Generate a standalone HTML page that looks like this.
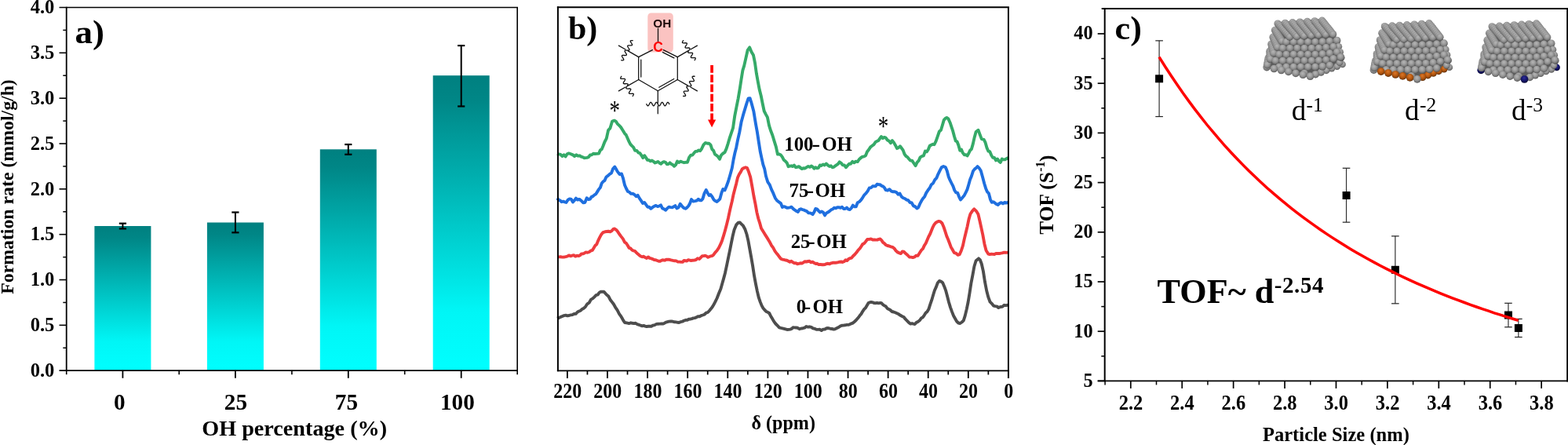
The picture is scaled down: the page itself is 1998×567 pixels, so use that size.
<!DOCTYPE html>
<html lang="en"><head><meta charset="utf-8"><title>Figure</title>
<style>html,body{margin:0;padding:0;background:#fff;overflow:hidden}svg{display:block}</style>
</head><body>
<svg width="1998" height="567" viewBox="0 0 1998 567">
<rect width="1998" height="567" fill="#fff"/>
<defs><linearGradient id="bg" x1="0" y1="0" x2="0" y2="1"><stop offset="0" stop-color="#008080"/><stop offset="0.08" stop-color="#008686"/><stop offset="0.8" stop-color="#00f6f6"/><stop offset="1" stop-color="#00ffff"/></linearGradient></defs>
<rect x="120.40" y="288.00" width="72.0" height="184.20" fill="url(#bg)"/>
<rect x="263.90" y="283.50" width="72.0" height="188.70" fill="url(#bg)"/>
<rect x="407.80" y="190.30" width="72.0" height="281.90" fill="url(#bg)"/>
<rect x="551.70" y="96.20" width="72.0" height="376.00" fill="url(#bg)"/>
<line x1="156.40" y1="291.40" x2="156.40" y2="284.69" stroke="#000" stroke-width="2.0" />
<line x1="151.80" y1="291.40" x2="161.00" y2="291.40" stroke="#000" stroke-width="2.2" />
<line x1="151.80" y1="284.69" x2="161.00" y2="284.69" stroke="#000" stroke-width="2.2" />
<line x1="299.90" y1="296.30" x2="299.90" y2="270.50" stroke="#000" stroke-width="2.0" />
<line x1="295.30" y1="296.30" x2="304.50" y2="296.30" stroke="#000" stroke-width="2.2" />
<line x1="295.30" y1="270.50" x2="304.50" y2="270.50" stroke="#000" stroke-width="2.2" />
<line x1="443.80" y1="196.78" x2="443.80" y2="184.05" stroke="#000" stroke-width="2.0" />
<line x1="439.20" y1="196.78" x2="448.40" y2="196.78" stroke="#000" stroke-width="2.2" />
<line x1="439.20" y1="184.05" x2="448.40" y2="184.05" stroke="#000" stroke-width="2.2" />
<line x1="587.70" y1="135.47" x2="587.70" y2="58.08" stroke="#000" stroke-width="2.0" />
<line x1="583.10" y1="135.47" x2="592.30" y2="135.47" stroke="#000" stroke-width="2.2" />
<line x1="583.10" y1="58.08" x2="592.30" y2="58.08" stroke="#000" stroke-width="2.2" />
<line x1="84.70" y1="8.70" x2="84.70" y2="473.10" stroke="#000" stroke-width="1.8" />
<line x1="75.50" y1="472.20" x2="660.00" y2="472.20" stroke="#000" stroke-width="1.8" />
<line x1="75.50" y1="9.50" x2="660.00" y2="9.50" stroke="#000" stroke-width="1.6" />
<line x1="659.20" y1="9.50" x2="659.20" y2="477.20" stroke="#000" stroke-width="1.6" />
<text transform="translate(69.30,480.00) scale(1.04,1.04)" font-family='"Liberation Serif", "DejaVu Serif", serif' font-size="23.6" font-weight="bold" text-anchor="end" fill="#000" >0.0</text>
<line x1="80.30" y1="443.28" x2="84.70" y2="443.28" stroke="#000" stroke-width="1.5" />
<line x1="75.50" y1="414.36" x2="84.70" y2="414.36" stroke="#000" stroke-width="1.6" />
<text transform="translate(69.30,422.16) scale(1.04,1.04)" font-family='"Liberation Serif", "DejaVu Serif", serif' font-size="23.6" font-weight="bold" text-anchor="end" fill="#000" >0.5</text>
<line x1="80.30" y1="385.44" x2="84.70" y2="385.44" stroke="#000" stroke-width="1.5" />
<line x1="75.50" y1="356.52" x2="84.70" y2="356.52" stroke="#000" stroke-width="1.6" />
<text transform="translate(69.30,364.32) scale(1.04,1.04)" font-family='"Liberation Serif", "DejaVu Serif", serif' font-size="23.6" font-weight="bold" text-anchor="end" fill="#000" >1.0</text>
<line x1="80.30" y1="327.61" x2="84.70" y2="327.61" stroke="#000" stroke-width="1.5" />
<line x1="75.50" y1="298.69" x2="84.70" y2="298.69" stroke="#000" stroke-width="1.6" />
<text transform="translate(69.30,306.49) scale(1.04,1.04)" font-family='"Liberation Serif", "DejaVu Serif", serif' font-size="23.6" font-weight="bold" text-anchor="end" fill="#000" >1.5</text>
<line x1="80.30" y1="269.77" x2="84.70" y2="269.77" stroke="#000" stroke-width="1.5" />
<line x1="75.50" y1="240.85" x2="84.70" y2="240.85" stroke="#000" stroke-width="1.6" />
<text transform="translate(69.30,248.65) scale(1.04,1.04)" font-family='"Liberation Serif", "DejaVu Serif", serif' font-size="23.6" font-weight="bold" text-anchor="end" fill="#000" >2.0</text>
<line x1="80.30" y1="211.93" x2="84.70" y2="211.93" stroke="#000" stroke-width="1.5" />
<line x1="75.50" y1="183.01" x2="84.70" y2="183.01" stroke="#000" stroke-width="1.6" />
<text transform="translate(69.30,190.81) scale(1.04,1.04)" font-family='"Liberation Serif", "DejaVu Serif", serif' font-size="23.6" font-weight="bold" text-anchor="end" fill="#000" >2.5</text>
<line x1="80.30" y1="154.09" x2="84.70" y2="154.09" stroke="#000" stroke-width="1.5" />
<line x1="75.50" y1="125.18" x2="84.70" y2="125.18" stroke="#000" stroke-width="1.6" />
<text transform="translate(69.30,132.98) scale(1.04,1.04)" font-family='"Liberation Serif", "DejaVu Serif", serif' font-size="23.6" font-weight="bold" text-anchor="end" fill="#000" >3.0</text>
<line x1="80.30" y1="96.26" x2="84.70" y2="96.26" stroke="#000" stroke-width="1.5" />
<line x1="75.50" y1="67.34" x2="84.70" y2="67.34" stroke="#000" stroke-width="1.6" />
<text transform="translate(69.30,75.14) scale(1.04,1.04)" font-family='"Liberation Serif", "DejaVu Serif", serif' font-size="23.6" font-weight="bold" text-anchor="end" fill="#000" >3.5</text>
<line x1="80.30" y1="38.42" x2="84.70" y2="38.42" stroke="#000" stroke-width="1.5" />
<text transform="translate(69.30,17.30) scale(1.04,1.04)" font-family='"Liberation Serif", "DejaVu Serif", serif' font-size="23.6" font-weight="bold" text-anchor="end" fill="#000" >4.0</text>
<line x1="156.40" y1="472.20" x2="156.40" y2="481.80" stroke="#000" stroke-width="1.8" />
<line x1="299.90" y1="472.20" x2="299.90" y2="481.80" stroke="#000" stroke-width="1.8" />
<line x1="443.80" y1="472.20" x2="443.80" y2="481.80" stroke="#000" stroke-width="1.8" />
<line x1="587.70" y1="472.20" x2="587.70" y2="481.80" stroke="#000" stroke-width="1.8" />
<line x1="84.70" y1="472.20" x2="84.70" y2="477.20" stroke="#000" stroke-width="1.6" />
<line x1="228.20" y1="472.20" x2="228.20" y2="477.20" stroke="#000" stroke-width="1.6" />
<line x1="371.90" y1="472.20" x2="371.90" y2="477.20" stroke="#000" stroke-width="1.6" />
<line x1="515.70" y1="472.20" x2="515.70" y2="477.20" stroke="#000" stroke-width="1.6" />
<text x="152.30" y="522.00" font-family='"Liberation Serif", "DejaVu Serif", serif' font-size="29.2" font-weight="bold" text-anchor="middle" fill="#000" >0</text>
<text x="300.40" y="522.00" font-family='"Liberation Serif", "DejaVu Serif", serif' font-size="29.2" font-weight="bold" text-anchor="middle" fill="#000" >25</text>
<text x="441.40" y="522.00" font-family='"Liberation Serif", "DejaVu Serif", serif' font-size="29.2" font-weight="bold" text-anchor="middle" fill="#000" >75</text>
<text x="582.85" y="522.00" font-family='"Liberation Serif", "DejaVu Serif", serif' font-size="29.2" font-weight="bold" text-anchor="middle" fill="#000" >100</text>
<text x="375.20" y="555.40" font-family='"Liberation Serif", "DejaVu Serif", serif' font-size="28.2" font-weight="bold" text-anchor="middle" fill="#000" >OH percentage (%)</text>
<text transform="translate(95.60,55.20) scale(1.07,1)" font-family='"Liberation Serif", "DejaVu Serif", serif' font-size="42" font-weight="bold" text-anchor="start" fill="#000" >a)</text>
<text transform="translate(17.2,238) rotate(-90)" font-family='"Liberation Serif", "DejaVu Serif", serif' font-size="23.8" font-weight="bold" text-anchor="middle">Formation rate (mmol/g/h)</text>
<path d="M710.0,405.7 L712.1,405.1 L714.3,403.9 L716.5,403.0 L718.6,402.1 L720.8,401.7 L722.9,402.4 L725.1,402.0 L727.2,401.4 L729.4,401.1 L731.5,400.0 L733.7,399.8 L735.9,397.5 L737.9,396.5 L739.9,395.7 L742.0,393.7 L744.0,392.7 L746.0,390.8 L748.3,387.3 L750.7,385.7 L753.0,381.6 L755.2,380.4 L757.4,378.3 L759.5,376.2 L761.7,375.5 L763.6,372.9 L765.6,371.7 L767.5,371.8 L769.4,371.7 L771.3,373.7 L773.2,375.8 L775.4,377.6 L777.5,381.7 L779.7,384.6 L781.9,387.5 L784.3,391.8 L786.6,395.2 L789.0,399.8 L790.8,402.3 L792.6,405.3 L794.4,408.6 L796.2,411.1 L798.1,411.3 L800.0,411.7 L802.0,412.0 L803.9,411.3 L805.8,411.8 L807.7,412.1 L809.9,411.8 L812.0,413.1 L814.2,413.8 L816.4,414.7 L818.3,415.3 L820.2,414.9 L822.1,415.6 L824.0,416.1 L825.9,415.8 L827.8,415.7 L830.0,415.7 L832.1,414.6 L834.3,414.1 L836.5,412.9 L838.6,412.7 L840.8,412.6 L842.9,412.4 L845.0,412.5 L846.8,411.7 L848.6,410.6 L850.5,410.1 L852.3,409.6 L854.1,409.5 L856.0,409.4 L857.8,409.8 L859.7,410.3 L861.5,410.4 L863.4,410.8 L865.2,411.0 L867.4,410.1 L869.5,409.7 L871.6,408.5 L873.8,407.8 L875.7,407.9 L877.6,406.8 L879.5,406.5 L881.5,406.1 L883.4,405.4 L885.3,405.1 L887.3,404.4 L889.3,403.3 L891.4,403.3 L893.4,402.2 L895.4,401.5 L897.5,400.7 L899.7,398.7 L901.9,398.0 L904.0,395.7 L905.8,393.6 L907.6,391.3 L909.4,388.2 L911.2,384.9 L913.6,380.0 L916.0,373.8 L918.4,368.0 L920.3,361.3 L922.1,354.9 L924.0,347.7 L926.0,338.3 L928.0,328.6 L930.0,319.2 L931.9,309.3 L933.7,300.5 L935.6,292.8 L938.2,286.4 L940.8,283.7 L942.9,283.5 L944.9,285.7 L947.0,287.7 L949.2,291.7 L951.5,298.5 L953.4,306.6 L955.3,317.2 L957.2,327.6 L959.1,338.7 L961.1,351.7 L963.0,361.8 L964.9,371.1 L966.8,379.2 L968.7,384.6 L970.6,389.4 L972.5,392.7 L974.4,394.9 L976.3,397.0 L978.3,397.8 L980.2,399.0 L982.1,402.7 L984.1,406.1 L986.0,409.4 L988.3,412.5 L990.7,414.9 L993.0,417.3 L995.0,417.9 L997.0,418.3 L999.0,418.8 L1001.0,419.3 L1003.0,420.0 L1005.0,419.9 L1006.8,419.6 L1008.6,419.0 L1010.4,417.3 L1012.2,417.4 L1014.4,417.5 L1016.5,417.8 L1018.7,419.2 L1020.9,418.5 L1023.0,418.2 L1025.2,417.7 L1027.3,416.0 L1029.5,416.7 L1031.6,416.3 L1033.8,416.8 L1035.9,418.4 L1038.0,418.7 L1040.2,419.7 L1042.3,419.9 L1044.5,419.8 L1046.7,421.0 L1048.9,419.6 L1051.1,419.5 L1053.2,418.3 L1055.4,418.0 L1057.8,418.7 L1060.1,419.0 L1062.5,419.6 L1064.5,419.1 L1066.5,418.1 L1068.6,417.0 L1070.6,415.6 L1072.6,414.8 L1074.7,414.6 L1076.8,414.3 L1078.9,413.9 L1081.0,413.9 L1082.8,413.2 L1084.7,412.3 L1086.6,411.6 L1088.4,410.2 L1090.8,408.0 L1093.2,405.3 L1095.6,402.1 L1097.4,400.0 L1099.2,396.8 L1101.0,394.2 L1102.8,392.4 L1104.7,389.2 L1106.6,386.0 L1108.5,385.2 L1110.3,384.9 L1112.1,385.3 L1113.9,386.1 L1115.7,386.2 L1117.6,385.8 L1119.6,386.3 L1121.5,385.9 L1123.3,386.2 L1125.1,388.2 L1126.9,389.5 L1128.7,390.3 L1130.6,392.9 L1132.5,393.9 L1134.4,395.0 L1136.6,397.0 L1138.7,397.5 L1140.8,398.3 L1143.0,399.3 L1145.2,400.3 L1147.3,401.8 L1149.5,403.0 L1151.7,404.0 L1153.8,406.7 L1156.0,408.8 L1158.2,411.1 L1160.3,412.6 L1162.1,412.1 L1163.9,412.7 L1165.7,413.0 L1167.5,411.1 L1169.6,410.0 L1171.8,408.3 L1173.9,405.4 L1176.0,404.2 L1177.8,401.6 L1179.7,398.5 L1181.5,397.1 L1183.3,394.1 L1185.2,388.1 L1187.1,382.7 L1189.0,376.2 L1190.9,370.0 L1192.9,365.6 L1194.8,360.4 L1196.9,357.9 L1199.0,358.6 L1201.2,360.3 L1203.4,365.4 L1205.3,370.7 L1207.1,377.5 L1209.0,385.0 L1211.0,391.6 L1213.0,397.1 L1215.0,402.2 L1217.1,406.0 L1219.1,409.5 L1221.2,411.5 L1223.4,412.0 L1225.6,410.5 L1227.8,408.4 L1229.7,402.4 L1231.7,394.1 L1233.6,385.0 L1235.5,373.5 L1237.4,360.9 L1239.3,351.1 L1241.4,339.5 L1243.6,332.3 L1247.0,329.4 L1248.9,331.2 L1250.8,336.3 L1252.9,345.6 L1255.0,359.2 L1257.2,370.5 L1259.4,378.9 L1261.6,384.7 L1263.8,386.8 L1266.0,389.6 L1268.1,390.1 L1270.2,390.4 L1272.4,392.1 L1274.8,391.0 L1277.2,390.9 L1279.6,388.8 L1282.0,389.2 L1284.5,388.7" fill="none" stroke="#4d4d4d" stroke-width="3.9" stroke-linejoin="round" stroke-linecap="butt"/>
<path d="M710.0,327.4 L712.1,327.4 L714.3,327.3 L716.5,327.6 L718.6,327.5 L720.7,327.1 L722.8,326.6 L724.9,325.4 L727.0,326.3 L729.1,325.7 L731.1,325.1 L733.2,326.6 L735.2,325.7 L737.3,326.1 L739.1,325.3 L740.9,323.5 L742.7,323.4 L744.5,322.7 L746.6,321.4 L748.8,321.8 L750.9,321.0 L753.0,319.4 L754.8,318.9 L756.6,315.9 L758.5,312.8 L760.3,311.2 L762.2,306.6 L764.1,302.7 L766.0,299.1 L768.5,296.1 L771.0,295.3 L773.2,295.0 L775.3,294.7 L777.5,295.3 L779.4,294.3 L781.4,292.0 L783.3,291.5 L785.2,292.8 L787.1,295.1 L789.0,298.0 L791.3,301.1 L793.7,304.1 L796.0,308.6 L797.9,309.9 L799.7,312.5 L801.5,315.8 L803.4,316.4 L805.3,318.5 L807.1,319.4 L809.0,319.8 L810.9,321.8 L812.7,323.6 L814.5,325.1 L816.4,326.5 L818.3,327.3 L820.2,326.7 L822.1,328.1 L824.0,329.0 L825.9,327.4 L827.8,328.9 L829.7,329.3 L831.6,330.1 L833.5,331.1 L835.5,331.2 L837.4,332.0 L839.3,332.7 L841.2,332.8 L843.1,331.6 L845.0,331.3 L847.0,331.7 L848.9,330.7 L850.8,330.7 L853.0,330.8 L855.1,331.4 L857.3,331.9 L859.5,332.3 L861.6,332.4 L863.8,333.6 L865.9,333.6 L868.0,333.9 L869.8,333.9 L871.6,331.9 L873.5,332.2 L875.3,332.5 L877.1,331.2 L878.9,331.6 L880.7,332.0 L882.5,331.7 L884.6,331.6 L886.8,331.0 L888.9,329.3 L891.0,330.0 L892.9,328.3 L894.9,326.1 L896.8,326.1 L898.6,325.7 L900.4,326.5 L902.2,327.8 L904.0,327.0 L905.8,326.3 L907.6,325.9 L909.4,324.4 L911.2,321.9 L913.6,319.3 L916.0,315.6 L918.4,310.7 L920.2,306.2 L922.0,300.4 L923.8,294.2 L925.6,287.6 L928.0,277.7 L930.4,266.4 L932.8,256.4 L934.6,247.7 L936.4,240.7 L938.2,233.9 L940.0,226.3 L941.9,222.0 L943.8,219.1 L945.7,215.4 L947.9,214.0 L950.0,213.3 L951.9,213.8 L953.7,218.0 L956.2,225.6 L958.6,238.9 L960.5,250.0 L962.5,259.8 L964.4,270.6 L966.3,278.5 L968.1,284.1 L970.0,291.0 L972.2,294.4 L974.4,298.1 L976.5,301.4 L978.7,304.9 L980.9,308.6 L983.0,312.7 L985.2,315.6 L987.4,319.8 L989.3,322.5 L991.2,324.6 L993.1,327.3 L995.0,329.7 L996.9,330.6 L998.8,330.9 L1000.8,331.5 L1002.7,331.7 L1004.6,332.7 L1006.5,333.8 L1008.4,332.8 L1010.3,334.3 L1012.2,335.3 L1014.2,335.2 L1016.1,336.3 L1018.0,335.9 L1019.9,335.3 L1021.8,335.6 L1023.8,334.4 L1025.7,333.2 L1027.6,333.5 L1029.5,333.0 L1031.5,332.7 L1033.5,334.4 L1035.4,333.7 L1037.4,335.0 L1039.4,336.0 L1041.3,335.8 L1043.3,337.1 L1045.3,336.9 L1047.3,337.2 L1049.2,337.2 L1051.2,337.0 L1053.2,336.1 L1055.1,335.8 L1057.1,336.4 L1059.0,335.3 L1061.0,334.8 L1062.8,334.7 L1064.6,334.7 L1066.4,334.5 L1068.2,334.2 L1070.1,333.7 L1071.9,333.5 L1073.7,334.0 L1075.5,333.3 L1077.4,331.3 L1079.3,332.1 L1081.2,330.1 L1083.2,329.1 L1085.1,328.6 L1087.0,326.2 L1089.2,324.2 L1091.3,321.8 L1093.4,318.8 L1095.6,316.7 L1097.4,314.0 L1099.2,311.1 L1101.0,310.3 L1102.8,308.2 L1105.2,305.0 L1107.7,304.9 L1109.9,304.4 L1112.1,305.5 L1114.3,305.4 L1116.1,305.6 L1117.9,305.6 L1119.7,304.8 L1121.5,304.4 L1123.3,306.1 L1125.1,308.9 L1126.9,310.2 L1128.7,312.0 L1130.8,313.0 L1133.0,313.5 L1135.2,314.3 L1137.3,314.9 L1139.5,316.5 L1141.7,319.6 L1143.8,321.4 L1146.0,322.4 L1147.9,323.1 L1149.8,320.5 L1151.7,320.7 L1154.1,323.1 L1156.4,325.0 L1158.8,327.5 L1161.0,327.6 L1163.2,328.1 L1165.3,327.4 L1167.5,325.6 L1169.6,325.8 L1171.8,322.3 L1173.9,318.9 L1176.0,316.9 L1177.8,312.9 L1179.7,310.0 L1181.5,305.7 L1183.3,301.5 L1185.1,298.2 L1186.9,293.7 L1188.7,289.3 L1190.5,285.9 L1192.4,283.7 L1194.3,282.6 L1196.2,281.9 L1198.3,282.4 L1200.5,284.5 L1202.4,288.9 L1204.4,294.9 L1206.3,300.9 L1208.1,305.0 L1209.9,309.8 L1211.7,314.7 L1213.5,317.7 L1215.9,322.1 L1218.2,322.7 L1220.6,324.9 L1222.8,324.1 L1225.0,318.9 L1226.9,313.2 L1228.8,304.4 L1230.7,296.5 L1232.6,288.6 L1234.5,279.4 L1236.4,272.8 L1238.8,269.1 L1241.3,266.3 L1243.9,268.8 L1246.5,273.1 L1248.4,281.3 L1250.4,290.3 L1252.3,299.1 L1254.4,310.7 L1256.6,319.3 L1259.4,323.6 L1261.3,324.1 L1263.3,323.7 L1265.2,323.9 L1267.1,324.0 L1269.1,323.0 L1271.0,322.9 L1272.9,323.0 L1274.9,322.7 L1276.8,322.3 L1278.7,321.8 L1280.6,321.6 L1282.6,321.9 L1284.5,321.6" fill="none" stroke="#ee3b3e" stroke-width="3.9" stroke-linejoin="round" stroke-linecap="butt"/>
<path d="M710.0,252.4 L711.9,254.7 L713.8,255.6 L715.7,257.2 L717.6,256.6 L719.6,257.3 L721.5,257.9 L723.6,254.7 L725.8,253.4 L727.9,253.9 L730.0,257.5 L732.0,255.3 L733.9,252.6 L735.9,254.5 L738.3,253.9 L740.6,255.7 L743.0,258.2 L745.3,258.0 L747.7,252.3 L750.0,254.1 L751.9,253.6 L753.7,250.9 L755.5,250.1 L757.4,248.4 L759.3,247.3 L761.1,244.4 L763.0,241.2 L764.9,239.0 L766.7,233.7 L768.5,231.3 L770.4,230.1 L772.5,225.5 L774.7,223.9 L776.9,221.8 L779.0,220.6 L781.1,215.0 L783.3,212.5 L785.1,215.6 L787.0,218.9 L789.5,222.0 L792.0,221.4 L794.0,227.2 L796.0,235.7 L798.0,240.3 L800.0,244.0 L802.0,244.8 L804.1,246.9 L806.3,246.8 L808.5,248.0 L810.6,250.3 L812.7,248.8 L814.8,252.7 L816.9,255.6 L819.0,258.9 L821.1,257.9 L823.1,260.7 L825.2,263.7 L827.2,263.7 L829.3,265.8 L831.5,264.2 L833.6,262.8 L835.8,261.9 L838.0,263.1 L840.0,262.5 L842.0,261.4 L844.0,265.4 L846.0,266.3 L848.0,267.8 L850.1,265.6 L852.3,263.6 L854.5,264.1 L856.6,264.4 L858.5,263.3 L860.4,262.1 L862.3,265.4 L864.5,264.5 L866.7,259.7 L869.1,262.8 L871.4,265.0 L873.8,265.8 L875.6,264.3 L877.4,262.3 L879.2,259.0 L881.0,254.1 L883.3,256.5 L885.7,256.1 L888.0,255.6 L889.9,253.7 L891.7,255.3 L893.5,255.4 L895.4,253.4 L897.5,246.4 L899.7,242.0 L901.6,245.7 L903.6,249.0 L905.5,248.1 L907.5,250.7 L909.5,254.4 L911.5,256.0 L913.5,257.0 L915.5,255.3 L917.4,253.3 L919.4,245.8 L921.3,241.0 L923.5,242.5 L925.6,237.5 L928.0,231.0 L930.4,222.8 L932.8,214.0 L934.6,203.5 L936.4,195.0 L938.2,187.9 L940.0,178.7 L942.3,168.4 L944.7,154.9 L947.0,146.4 L949.2,139.1 L951.3,132.1 L953.5,125.5 L955.6,125.1 L957.8,132.2 L960.4,142.1 L963.0,158.0 L964.9,168.4 L966.8,180.9 L968.7,193.0 L970.5,201.3 L972.4,209.9 L974.2,215.2 L976.0,224.5 L978.3,231.9 L980.7,235.3 L983.0,241.4 L985.3,246.2 L987.7,252.1 L990.0,255.5 L992.5,257.4 L995.0,259.2 L996.9,264.0 L998.8,263.2 L1000.7,263.7 L1002.6,264.7 L1004.6,264.7 L1006.5,264.3 L1008.6,263.7 L1010.8,266.1 L1012.9,267.7 L1015.0,269.1 L1016.8,270.0 L1018.6,267.1 L1020.5,266.2 L1022.3,267.1 L1024.2,267.4 L1026.1,268.4 L1028.0,269.1 L1030.0,271.2 L1031.9,271.4 L1033.8,271.8 L1035.6,273.1 L1037.4,270.3 L1039.2,265.9 L1041.0,266.3 L1043.0,268.6 L1045.0,270.5 L1047.0,269.4 L1049.0,270.6 L1051.0,274.4 L1053.0,271.5 L1055.0,270.5 L1057.0,269.2 L1059.0,267.3 L1061.0,266.5 L1063.0,264.8 L1065.0,265.4 L1067.0,264.1 L1069.0,264.2 L1071.0,264.8 L1073.0,263.7 L1075.0,266.0 L1077.0,266.0 L1079.0,264.6 L1081.0,266.6 L1083.0,267.0 L1084.9,265.0 L1086.8,261.6 L1088.8,263.4 L1090.8,263.4 L1092.7,258.3 L1094.9,257.1 L1097.1,254.8 L1099.2,251.8 L1101.4,248.3 L1103.6,246.2 L1105.7,243.3 L1107.8,239.4 L1110.0,239.1 L1111.9,237.3 L1113.8,237.1 L1115.7,237.3 L1117.6,234.7 L1119.6,235.2 L1121.5,235.2 L1123.3,236.8 L1125.1,237.3 L1126.9,239.1 L1128.7,242.2 L1131.1,242.7 L1133.4,241.2 L1135.8,243.6 L1138.0,244.3 L1140.2,244.2 L1142.3,245.1 L1144.5,247.7 L1146.6,246.6 L1148.8,250.6 L1150.9,252.2 L1153.0,253.0 L1155.2,254.6 L1157.3,255.2 L1159.5,257.9 L1161.7,258.5 L1163.9,262.3 L1166.1,263.1 L1168.3,265.5 L1170.2,264.3 L1172.2,259.7 L1174.1,256.1 L1176.0,253.0 L1178.2,250.4 L1180.3,245.6 L1182.5,242.3 L1184.7,239.5 L1186.8,235.2 L1189.0,233.5 L1191.2,229.1 L1193.3,226.9 L1195.4,221.8 L1197.6,217.3 L1199.7,213.3 L1202.2,212.0 L1204.8,213.0 L1206.7,217.4 L1208.7,225.3 L1210.6,229.7 L1212.5,233.5 L1214.4,237.2 L1216.3,242.5 L1218.2,245.4 L1220.2,245.7 L1222.1,250.8 L1224.0,254.5 L1226.2,251.9 L1228.5,249.3 L1230.7,245.1 L1232.5,241.4 L1234.3,235.3 L1236.1,228.8 L1237.9,224.5 L1240.0,217.9 L1242.0,215.4 L1243.8,214.0 L1245.6,212.1 L1247.4,213.8 L1249.8,217.5 L1252.3,226.5 L1254.2,233.7 L1256.1,239.9 L1258.0,244.4 L1259.9,246.3 L1261.9,254.1 L1263.8,257.8 L1265.7,257.3 L1267.6,258.4 L1269.5,260.0 L1271.6,261.0 L1273.8,259.1 L1275.9,258.1 L1278.0,259.4 L1280.2,257.9 L1282.3,258.6 L1284.5,257.9" fill="none" stroke="#1f6fdf" stroke-width="3.9" stroke-linejoin="round" stroke-linecap="butt"/>
<path d="M710.0,195.8 L712.1,196.4 L714.3,196.9 L716.5,199.0 L718.6,197.2 L720.6,199.5 L722.7,196.2 L724.7,195.4 L726.7,196.0 L730.0,197.4 L732.2,199.1 L734.4,197.3 L736.5,198.7 L738.7,198.3 L740.5,199.6 L742.4,200.1 L744.2,201.2 L746.0,201.1 L748.0,200.9 L750.0,200.2 L752.0,197.5 L754.0,197.3 L756.0,195.8 L758.3,196.0 L760.7,195.9 L763.0,195.6 L764.9,191.4 L766.7,190.2 L768.5,186.0 L770.4,181.0 L772.8,176.4 L775.1,165.8 L777.5,163.3 L780.1,154.5 L782.7,153.6 L784.8,154.7 L786.9,157.8 L789.0,159.8 L791.3,162.4 L793.7,166.2 L796.0,170.1 L797.8,171.9 L799.6,176.1 L801.4,180.1 L803.2,183.6 L805.0,185.6 L807.1,187.6 L809.2,191.9 L811.4,191.9 L813.5,194.7 L815.4,195.1 L817.3,197.8 L819.2,201.1 L821.2,198.2 L823.1,200.9 L825.0,203.9 L826.9,204.0 L828.8,205.4 L830.8,204.5 L832.7,205.8 L834.6,207.5 L836.5,206.8 L838.4,205.9 L840.3,207.7 L842.2,208.7 L844.2,206.9 L846.1,206.2 L848.0,206.8 L849.9,209.2 L851.7,209.1 L853.6,207.4 L855.4,209.0 L857.3,209.9 L859.1,211.8 L861.0,210.1 L863.0,205.6 L865.0,207.0 L867.2,205.7 L869.4,206.5 L871.6,207.2 L873.8,206.8 L876.0,206.7 L878.1,200.7 L880.3,197.7 L882.5,197.5 L884.4,194.8 L886.3,192.9 L888.2,192.8 L890.2,191.5 L892.1,192.2 L894.0,189.8 L896.5,184.4 L899.0,182.0 L901.2,182.7 L903.3,182.6 L905.5,184.7 L907.3,190.1 L909.2,192.0 L911.0,196.6 L913.0,197.9 L915.0,199.6 L917.0,202.8 L919.1,197.6 L921.3,195.5 L923.5,194.1 L925.6,189.4 L927.7,182.8 L929.8,175.6 L931.9,169.4 L934.0,163.2 L936.2,147.9 L938.4,136.7 L940.6,125.6 L942.8,112.6 L944.6,100.7 L946.4,89.6 L948.2,83.9 L950.0,75.8 L952.6,64.2 L955.2,60.4 L957.6,66.2 L960.0,70.3 L961.9,79.6 L963.9,93.7 L965.8,104.2 L967.7,114.1 L969.7,121.9 L971.6,131.5 L973.7,141.5 L975.8,145.6 L977.9,149.4 L980.0,159.9 L982.2,166.8 L984.4,172.5 L986.6,179.9 L988.8,186.8 L990.9,196.6 L993.0,196.5 L995.0,197.5 L996.9,200.2 L998.8,203.9 L1000.7,205.3 L1002.6,207.3 L1004.6,212.2 L1006.5,211.7 L1008.3,211.3 L1010.2,212.1 L1012.0,210.6 L1014.0,213.2 L1015.9,212.9 L1017.9,212.1 L1019.8,213.6 L1021.8,215.1 L1023.7,214.3 L1025.8,214.5 L1027.8,213.1 L1029.9,211.9 L1032.0,212.9 L1033.8,211.5 L1035.6,212.6 L1037.4,214.8 L1039.2,213.2 L1041.0,214.2 L1042.9,213.9 L1044.8,210.5 L1046.7,211.0 L1048.8,209.5 L1050.8,210.4 L1052.9,208.5 L1055.0,210.7 L1056.9,212.0 L1058.8,211.2 L1060.6,213.2 L1062.5,212.9 L1064.3,211.3 L1066.1,210.1 L1067.9,208.9 L1069.7,206.4 L1071.8,207.8 L1073.8,210.4 L1075.9,210.5 L1078.0,213.3 L1080.0,210.9 L1082.0,208.8 L1084.0,208.7 L1086.2,205.9 L1088.3,207.3 L1090.5,205.7 L1092.7,206.1 L1094.8,203.0 L1097.0,201.0 L1099.0,199.7 L1101.0,199.4 L1103.0,198.3 L1105.0,193.3 L1107.0,190.8 L1109.2,187.4 L1111.3,185.8 L1113.5,184.1 L1115.7,180.9 L1117.5,179.8 L1119.3,179.2 L1121.2,176.4 L1123.0,174.0 L1124.9,176.2 L1126.8,174.9 L1128.7,175.6 L1130.8,178.5 L1133.0,179.7 L1135.0,182.3 L1137.0,179.1 L1139.0,181.6 L1141.0,185.2 L1143.0,189.1 L1144.9,188.2 L1146.9,186.3 L1148.8,188.8 L1150.7,191.4 L1152.6,196.5 L1154.5,199.0 L1156.3,200.1 L1158.2,202.5 L1160.0,204.6 L1162.2,204.6 L1164.4,208.0 L1166.6,211.2 L1168.6,206.9 L1170.6,204.9 L1172.6,200.4 L1174.6,199.2 L1176.8,198.5 L1179.0,192.5 L1180.9,193.3 L1182.8,190.5 L1184.7,185.8 L1186.6,184.7 L1188.6,183.8 L1190.5,184.2 L1192.6,179.9 L1194.8,173.7 L1196.9,167.5 L1199.0,165.7 L1200.8,159.8 L1202.7,153.1 L1204.5,150.9 L1206.3,149.9 L1208.4,151.4 L1210.6,156.2 L1212.4,161.6 L1214.2,166.9 L1216.0,173.7 L1217.8,179.6 L1219.6,180.5 L1221.4,185.2 L1223.2,191.8 L1225.0,190.5 L1226.9,194.9 L1228.8,197.3 L1230.7,197.2 L1232.5,198.5 L1234.3,195.5 L1236.1,191.7 L1237.9,190.0 L1239.8,183.4 L1241.7,174.9 L1243.6,168.0 L1246.5,165.7 L1248.7,171.7 L1250.8,177.1 L1253.7,177.8 L1255.6,181.7 L1257.5,188.4 L1259.4,192.7 L1261.3,193.2 L1263.3,198.0 L1265.2,200.8 L1267.1,201.0 L1269.1,204.4 L1271.0,202.5 L1272.9,205.4 L1274.8,206.9 L1276.7,202.4 L1278.7,203.4 L1280.6,203.3 L1282.5,202.2 L1284.5,201.0" fill="none" stroke="#35aa68" stroke-width="3.9" stroke-linejoin="round" stroke-linecap="butt"/>
<line x1="710.90" y1="8.30" x2="710.90" y2="473.35" stroke="#000" stroke-width="2.0" />
<line x1="709.90" y1="472.45" x2="1285.90" y2="472.45" stroke="#000" stroke-width="1.8" />
<line x1="709.90" y1="9.20" x2="1285.90" y2="9.20" stroke="#000" stroke-width="1.9" />
<line x1="1284.90" y1="9.20" x2="1284.90" y2="481.95" stroke="#000" stroke-width="1.9" />
<line x1="1284.90" y1="472.45" x2="1284.90" y2="481.95" stroke="#000" stroke-width="1.8" />
<text transform="translate(1285.20,507.00) scale(1,1.11)" font-family='"Liberation Serif", "DejaVu Serif", serif' font-size="24" font-weight="bold" text-anchor="middle" fill="#000" >0</text>
<line x1="1259.36" y1="472.45" x2="1259.36" y2="477.45" stroke="#000" stroke-width="1.7" />
<line x1="1233.81" y1="472.45" x2="1233.81" y2="481.95" stroke="#000" stroke-width="1.8" />
<text transform="translate(1234.11,507.00) scale(1,1.11)" font-family='"Liberation Serif", "DejaVu Serif", serif' font-size="24" font-weight="bold" text-anchor="middle" fill="#000" >20</text>
<line x1="1208.27" y1="472.45" x2="1208.27" y2="477.45" stroke="#000" stroke-width="1.7" />
<line x1="1182.72" y1="472.45" x2="1182.72" y2="481.95" stroke="#000" stroke-width="1.8" />
<text transform="translate(1183.02,507.00) scale(1,1.11)" font-family='"Liberation Serif", "DejaVu Serif", serif' font-size="24" font-weight="bold" text-anchor="middle" fill="#000" >40</text>
<line x1="1157.18" y1="472.45" x2="1157.18" y2="477.45" stroke="#000" stroke-width="1.7" />
<line x1="1131.63" y1="472.45" x2="1131.63" y2="481.95" stroke="#000" stroke-width="1.8" />
<text transform="translate(1131.93,507.00) scale(1,1.11)" font-family='"Liberation Serif", "DejaVu Serif", serif' font-size="24" font-weight="bold" text-anchor="middle" fill="#000" >60</text>
<line x1="1106.09" y1="472.45" x2="1106.09" y2="477.45" stroke="#000" stroke-width="1.7" />
<line x1="1080.54" y1="472.45" x2="1080.54" y2="481.95" stroke="#000" stroke-width="1.8" />
<text transform="translate(1080.84,507.00) scale(1,1.11)" font-family='"Liberation Serif", "DejaVu Serif", serif' font-size="24" font-weight="bold" text-anchor="middle" fill="#000" >80</text>
<line x1="1055.00" y1="472.45" x2="1055.00" y2="477.45" stroke="#000" stroke-width="1.7" />
<line x1="1029.45" y1="472.45" x2="1029.45" y2="481.95" stroke="#000" stroke-width="1.8" />
<text transform="translate(1029.75,507.00) scale(1,1.11)" font-family='"Liberation Serif", "DejaVu Serif", serif' font-size="24" font-weight="bold" text-anchor="middle" fill="#000" >100</text>
<line x1="1003.91" y1="472.45" x2="1003.91" y2="477.45" stroke="#000" stroke-width="1.7" />
<line x1="978.36" y1="472.45" x2="978.36" y2="481.95" stroke="#000" stroke-width="1.8" />
<text transform="translate(978.66,507.00) scale(1,1.11)" font-family='"Liberation Serif", "DejaVu Serif", serif' font-size="24" font-weight="bold" text-anchor="middle" fill="#000" >120</text>
<line x1="952.82" y1="472.45" x2="952.82" y2="477.45" stroke="#000" stroke-width="1.7" />
<line x1="927.27" y1="472.45" x2="927.27" y2="481.95" stroke="#000" stroke-width="1.8" />
<text transform="translate(927.57,507.00) scale(1,1.11)" font-family='"Liberation Serif", "DejaVu Serif", serif' font-size="24" font-weight="bold" text-anchor="middle" fill="#000" >140</text>
<line x1="901.73" y1="472.45" x2="901.73" y2="477.45" stroke="#000" stroke-width="1.7" />
<line x1="876.18" y1="472.45" x2="876.18" y2="481.95" stroke="#000" stroke-width="1.8" />
<text transform="translate(876.48,507.00) scale(1,1.11)" font-family='"Liberation Serif", "DejaVu Serif", serif' font-size="24" font-weight="bold" text-anchor="middle" fill="#000" >160</text>
<line x1="850.64" y1="472.45" x2="850.64" y2="477.45" stroke="#000" stroke-width="1.7" />
<line x1="825.09" y1="472.45" x2="825.09" y2="481.95" stroke="#000" stroke-width="1.8" />
<text transform="translate(825.39,507.00) scale(1,1.11)" font-family='"Liberation Serif", "DejaVu Serif", serif' font-size="24" font-weight="bold" text-anchor="middle" fill="#000" >180</text>
<line x1="799.55" y1="472.45" x2="799.55" y2="477.45" stroke="#000" stroke-width="1.7" />
<line x1="774.00" y1="472.45" x2="774.00" y2="481.95" stroke="#000" stroke-width="1.8" />
<text transform="translate(774.30,507.00) scale(1,1.11)" font-family='"Liberation Serif", "DejaVu Serif", serif' font-size="24" font-weight="bold" text-anchor="middle" fill="#000" >200</text>
<line x1="748.46" y1="472.45" x2="748.46" y2="477.45" stroke="#000" stroke-width="1.7" />
<line x1="722.91" y1="472.45" x2="722.91" y2="481.95" stroke="#000" stroke-width="1.8" />
<text transform="translate(723.21,507.00) scale(1,1.11)" font-family='"Liberation Serif", "DejaVu Serif", serif' font-size="24" font-weight="bold" text-anchor="middle" fill="#000" >220</text>
<text transform="translate(998.20,546.80) scale(1,1.08)" font-family='"Liberation Serif", "DejaVu Serif", serif' font-size="24.1" font-weight="bold" text-anchor="middle" fill="#000" >δ (ppm)</text>
<text x="724.00" y="50.30" font-family='"Liberation Serif", "DejaVu Serif", serif' font-size="42" font-weight="bold" text-anchor="start" fill="#000" >b)</text>
<text x="999.30" y="191.80" font-family='"Liberation Serif", "DejaVu Serif", serif' font-size="24.8" font-weight="bold" text-anchor="start" fill="#000" >100</text>
<text transform="translate(1034.19,191.80) scale(1.318,1)" font-family='"Liberation Serif", "DejaVu Serif", serif' font-size="24.8" font-weight="bold" text-anchor="start" fill="#000" >-</text>
<text x="1047.20" y="191.80" font-family='"Liberation Serif", "DejaVu Serif", serif' font-size="24.8" font-weight="bold" text-anchor="start" fill="#000" >OH</text>
<text x="1005.60" y="251.30" font-family='"Liberation Serif", "DejaVu Serif", serif' font-size="24.8" font-weight="bold" text-anchor="start" fill="#000" >75</text>
<text transform="translate(1027.66,251.30) scale(1.132,1)" font-family='"Liberation Serif", "DejaVu Serif", serif' font-size="24.8" font-weight="bold" text-anchor="start" fill="#000" >-</text>
<text x="1038.40" y="251.30" font-family='"Liberation Serif", "DejaVu Serif", serif' font-size="24.8" font-weight="bold" text-anchor="start" fill="#000" >OH</text>
<text x="1007.70" y="316.00" font-family='"Liberation Serif", "DejaVu Serif", serif' font-size="24.8" font-weight="bold" text-anchor="start" fill="#000" >25</text>
<text transform="translate(1029.38,316.00) scale(1.117,1)" font-family='"Liberation Serif", "DejaVu Serif", serif' font-size="24.8" font-weight="bold" text-anchor="start" fill="#000" >-</text>
<text x="1040.20" y="316.00" font-family='"Liberation Serif", "DejaVu Serif", serif' font-size="24.8" font-weight="bold" text-anchor="start" fill="#000" >OH</text>
<text x="1014.80" y="399.00" font-family='"Liberation Serif", "DejaVu Serif", serif' font-size="24.8" font-weight="bold" text-anchor="start" fill="#000" >0</text>
<text transform="translate(1024.08,399.00) scale(1.117,1)" font-family='"Liberation Serif", "DejaVu Serif", serif' font-size="24.8" font-weight="bold" text-anchor="start" fill="#000" >-</text>
<text x="1035.50" y="399.00" font-family='"Liberation Serif", "DejaVu Serif", serif' font-size="24.8" font-weight="bold" text-anchor="start" fill="#000" >OH</text>
<text transform="translate(783.3,137.3) scale(0.9,1.16)" x="0" y="13.5" font-family='"Liberation Serif", "DejaVu Serif", serif' font-size="30" text-anchor="middle">*</text>
<text transform="translate(1125.4,157.0) scale(0.9,1.16)" x="0" y="13.5" font-family='"Liberation Serif", "DejaVu Serif", serif' font-size="30" text-anchor="middle">*</text>
<line x1="907.1" y1="82.9" x2="907.1" y2="153" stroke="#ff0000" stroke-width="3.7" stroke-dasharray="9.8 2.5"/>
<polygon points="902,152.4 912.2,152.4 907.1,162.3" fill="#ff0000"/>
<rect x="825.3" y="16.5" width="32.5" height="50" rx="4.5" ry="4.5" fill="#fbc3c1"/>
<line x1="831.41" y1="63.60" x2="813.70" y2="72.60" stroke="#111" stroke-width="1.25" stroke-linecap="round"/>
<line x1="845.30" y1="63.60" x2="863.30" y2="72.60" stroke="#111" stroke-width="1.25" stroke-linecap="round"/>
<line x1="813.70" y1="72.60" x2="813.70" y2="101.50" stroke="#111" stroke-width="1.25" stroke-linecap="round"/>
<line x1="813.70" y1="101.50" x2="838.30" y2="115.70" stroke="#111" stroke-width="1.25" stroke-linecap="round"/>
<line x1="838.30" y1="115.70" x2="863.30" y2="101.50" stroke="#111" stroke-width="1.25" stroke-linecap="round"/>
<line x1="863.30" y1="101.50" x2="863.30" y2="72.60" stroke="#111" stroke-width="1.25" stroke-linecap="round"/>
<line x1="816.80" y1="76.07" x2="816.80" y2="98.03" stroke="#111" stroke-width="1.25" stroke-linecap="round"/>
<line x1="839.77" y1="111.30" x2="858.77" y2="100.51" stroke="#111" stroke-width="1.25" stroke-linecap="round"/>
<line x1="844.41" y1="66.62" x2="858.91" y2="73.87" stroke="#111" stroke-width="1.25" stroke-linecap="round"/>
<line x1="838.50" y1="36.00" x2="838.50" y2="53.00" stroke="#111" stroke-width="1.25" stroke-linecap="round"/>
<line x1="813.70" y1="72.60" x2="800.29" y2="64.91" stroke="#111" stroke-width="1.25" stroke-linecap="round"/>
<line x1="797.00" y1="63.03" x2="788.40" y2="58.10" stroke="#111" stroke-width="1.25" stroke-linecap="round"/>
<path d="M791.82,76.77 L792.87,76.82 L793.78,76.78 L794.43,76.60 L794.76,76.23 L794.75,75.66 L794.43,74.93 L793.91,74.07 L793.32,73.18 L792.81,72.32 L792.49,71.59 L792.48,71.02 L792.80,70.65 L793.46,70.47 L794.37,70.43 L795.42,70.48 L796.47,70.53 L797.38,70.49 L798.04,70.31 L798.37,69.94 L798.35,69.37 L798.04,68.64 L797.52,67.78 L796.93,66.89 L796.41,66.03 L796.10,65.30 L796.08,64.73 L796.41,64.36 L797.06,64.18 L797.97,64.14 L799.03,64.19 L800.08,64.24 L800.99,64.20 L801.64,64.02 L801.97,63.65 L801.96,63.08 L801.64,62.35 L801.12,61.49 L800.53,60.60 L800.02,59.74 L799.70,59.01 L799.69,58.44 L800.01,58.07 L800.67,57.89 L801.58,57.85 L802.63,57.90 L803.68,57.95 L804.59,57.91 L805.25,57.73 L805.58,57.36 L805.56,56.79 L805.25,56.06 L804.73,55.20 L804.14,54.31 L803.62,53.45 L803.31,52.72 L803.29,52.15 L803.62,51.78 L804.27,51.60 L805.18,51.56 L806.24,51.61" fill="none" stroke="#111" stroke-width="1.3" stroke-linecap="round" stroke-linejoin="round"/>
<line x1="863.30" y1="72.60" x2="876.60" y2="64.91" stroke="#111" stroke-width="1.25" stroke-linecap="round"/>
<line x1="879.87" y1="63.03" x2="888.40" y2="58.10" stroke="#111" stroke-width="1.25" stroke-linecap="round"/>
<path d="M870.60,51.63 L870.04,52.52 L869.61,53.33 L869.44,53.98 L869.59,54.45 L870.09,54.72 L870.88,54.82 L871.88,54.80 L872.95,54.74 L873.95,54.72 L874.75,54.82 L875.24,55.09 L875.40,55.56 L875.23,56.22 L874.80,57.03 L874.23,57.91 L873.66,58.80 L873.23,59.60 L873.06,60.26 L873.22,60.73 L873.72,61.00 L874.51,61.10 L875.51,61.08 L876.58,61.02 L877.58,61.00 L878.37,61.10 L878.87,61.37 L879.03,61.84 L878.85,62.50 L878.43,63.30 L877.86,64.19 L877.29,65.08 L876.86,65.88 L876.69,66.54 L876.84,67.01 L877.34,67.28 L878.14,67.38 L879.14,67.36 L880.21,67.30 L881.20,67.28 L882.00,67.38 L882.50,67.65 L882.65,68.12 L882.48,68.78 L882.05,69.58 L881.48,70.47 L880.92,71.35 L880.49,72.16 L880.32,72.82 L880.47,73.29 L880.97,73.56 L881.76,73.66 L882.76,73.64 L883.83,73.58 L884.83,73.56 L885.63,73.66 L886.12,73.93 L886.28,74.40 L886.11,75.05 L885.68,75.86 L885.11,76.75" fill="none" stroke="#111" stroke-width="1.3" stroke-linecap="round" stroke-linejoin="round"/>
<line x1="813.70" y1="101.50" x2="800.29" y2="109.13" stroke="#111" stroke-width="1.25" stroke-linecap="round"/>
<line x1="797.00" y1="111.00" x2="788.40" y2="115.90" stroke="#111" stroke-width="1.25" stroke-linecap="round"/>
<path d="M806.20,122.45 L806.77,121.57 L807.21,120.77 L807.38,120.11 L807.23,119.64 L806.73,119.37 L805.94,119.26 L804.94,119.28 L803.87,119.33 L802.87,119.34 L802.08,119.24 L801.58,118.96 L801.43,118.50 L801.60,117.84 L802.04,117.04 L802.61,116.15 L803.19,115.27 L803.62,114.47 L803.80,113.81 L803.64,113.34 L803.15,113.07 L802.35,112.96 L801.35,112.98 L800.28,113.03 L799.29,113.04 L798.49,112.94 L797.99,112.66 L797.84,112.19 L798.02,111.54 L798.45,110.73 L799.03,109.85 L799.60,108.97 L800.03,108.17 L800.21,107.51 L800.06,107.04 L799.56,106.77 L798.77,106.66 L797.77,106.68 L796.70,106.73 L795.70,106.74 L794.90,106.64 L794.41,106.36 L794.26,105.89 L794.43,105.24 L794.87,104.43 L795.44,103.55 L796.01,102.67 L796.45,101.87 L796.62,101.21 L796.47,100.74 L795.98,100.47 L795.18,100.36 L794.18,100.37 L793.11,100.43 L792.11,100.44 L791.32,100.34 L790.82,100.06 L790.67,99.59 L790.85,98.94 L791.28,98.13 L791.85,97.25" fill="none" stroke="#111" stroke-width="1.3" stroke-linecap="round" stroke-linejoin="round"/>
<line x1="863.30" y1="101.50" x2="876.60" y2="109.13" stroke="#111" stroke-width="1.25" stroke-linecap="round"/>
<line x1="879.87" y1="111.00" x2="888.40" y2="115.90" stroke="#111" stroke-width="1.25" stroke-linecap="round"/>
<path d="M885.07,97.27 L884.02,97.23 L883.11,97.26 L882.45,97.44 L882.13,97.81 L882.14,98.38 L882.46,99.12 L882.98,99.97 L883.56,100.87 L884.08,101.72 L884.40,102.46 L884.41,103.02 L884.08,103.39 L883.43,103.58 L882.52,103.61 L881.47,103.56 L880.41,103.52 L879.50,103.55 L878.85,103.73 L878.52,104.10 L878.54,104.67 L878.85,105.41 L879.37,106.26 L879.96,107.16 L880.47,108.01 L880.79,108.75 L880.80,109.31 L880.48,109.68 L879.82,109.86 L878.91,109.90 L877.86,109.85 L876.81,109.81 L875.89,109.84 L875.24,110.02 L874.91,110.39 L874.93,110.96 L875.24,111.69 L875.76,112.55 L876.35,113.44 L876.87,114.30 L877.18,115.04 L877.20,115.60 L876.87,115.97 L876.21,116.15 L875.30,116.19 L874.25,116.14 L873.20,116.09 L872.29,116.13 L871.63,116.31 L871.30,116.68 L871.32,117.25 L871.63,117.98 L872.15,118.84 L872.74,119.73 L873.26,120.59 L873.57,121.32 L873.59,121.89 L873.26,122.26 L872.61,122.44 L871.69,122.48 L870.64,122.43" fill="none" stroke="#111" stroke-width="1.3" stroke-linecap="round" stroke-linejoin="round"/>
<line x1="838.30" y1="115.70" x2="838.30" y2="131.12" stroke="#111" stroke-width="1.25" stroke-linecap="round"/>
<line x1="838.30" y1="134.91" x2="838.30" y2="144.80" stroke="#111" stroke-width="1.25" stroke-linecap="round"/>
<path d="M852.80,132.58 L852.32,131.64 L851.83,130.87 L851.35,130.39 L850.87,130.29 L850.38,130.59 L849.90,131.23 L849.42,132.10 L848.93,133.06 L848.45,133.93 L847.97,134.57 L847.48,134.87 L847.00,134.77 L846.52,134.29 L846.03,133.51 L845.55,132.58 L845.07,131.64 L844.58,130.87 L844.10,130.39 L843.62,130.29 L843.13,130.59 L842.65,131.23 L842.17,132.10 L841.68,133.06 L841.20,133.93 L840.72,134.57 L840.23,134.87 L839.75,134.77 L839.27,134.29 L838.78,133.51 L838.30,132.58 L837.82,131.64 L837.33,130.87 L836.85,130.39 L836.37,130.29 L835.88,130.59 L835.40,131.23 L834.92,132.10 L834.43,133.06 L833.95,133.93 L833.47,134.57 L832.98,134.87 L832.50,134.77 L832.02,134.29 L831.53,133.51 L831.05,132.58 L830.57,131.64 L830.08,130.87 L829.60,130.39 L829.12,130.29 L828.63,130.59 L828.15,131.23 L827.67,132.10 L827.18,133.06 L826.70,133.93 L826.22,134.57 L825.73,134.87 L825.25,134.77 L824.77,134.29 L824.28,133.51 L823.80,132.58" fill="none" stroke="#111" stroke-width="1.3" stroke-linecap="round" stroke-linejoin="round"/>
<text x="843.8" y="35.0" font-family='"Liberation Sans", "DejaVu Sans", sans-serif' font-size="15.3" font-weight="bold" text-anchor="middle" fill="#1a0a0a">OH</text>
<text x="838.6" y="66.4" font-family='"Liberation Sans", "DejaVu Sans", sans-serif' font-size="17.5" font-weight="bold" text-anchor="middle" fill="#ff0000">C</text>
<line x1="1477.11" y1="148.54" x2="1477.11" y2="51.85" stroke="#333" stroke-width="1.2" />
<line x1="1472.31" y1="148.54" x2="1481.91" y2="148.54" stroke="#222" stroke-width="1.2" />
<line x1="1472.31" y1="51.85" x2="1481.91" y2="51.85" stroke="#222" stroke-width="1.2" />
<rect x="1472.1" y="95.3" width="10" height="10" fill="#000"/>
<line x1="1715.56" y1="283.16" x2="1715.56" y2="214.27" stroke="#333" stroke-width="1.2" />
<line x1="1710.76" y1="283.16" x2="1720.36" y2="283.16" stroke="#222" stroke-width="1.2" />
<line x1="1710.76" y1="214.27" x2="1720.36" y2="214.27" stroke="#222" stroke-width="1.2" />
<rect x="1710.6" y="244.0" width="10" height="10" fill="#000"/>
<line x1="1777.88" y1="386.81" x2="1777.88" y2="300.86" stroke="#333" stroke-width="1.2" />
<line x1="1773.08" y1="386.81" x2="1782.68" y2="386.81" stroke="#222" stroke-width="1.2" />
<line x1="1773.08" y1="300.86" x2="1782.68" y2="300.86" stroke="#222" stroke-width="1.2" />
<rect x="1772.9" y="338.8" width="10" height="10" fill="#000"/>
<line x1="1921.96" y1="416.76" x2="1921.96" y2="386.30" stroke="#333" stroke-width="1.2" />
<line x1="1917.16" y1="416.76" x2="1926.76" y2="416.76" stroke="#222" stroke-width="1.2" />
<line x1="1917.16" y1="386.30" x2="1926.76" y2="386.30" stroke="#222" stroke-width="1.2" />
<rect x="1917.0" y="396.5" width="10" height="10" fill="#000"/>
<line x1="1934.88" y1="429.53" x2="1934.88" y2="406.40" stroke="#333" stroke-width="1.2" />
<line x1="1930.08" y1="429.53" x2="1939.68" y2="429.53" stroke="#222" stroke-width="1.2" />
<line x1="1930.08" y1="406.40" x2="1939.68" y2="406.40" stroke="#222" stroke-width="1.2" />
<rect x="1929.9" y="413.0" width="10" height="10" fill="#000"/>
<path d="M1477.0,72.6 L1484.6,84.8 L1492.3,96.5 L1499.9,107.8 L1507.5,118.8 L1515.2,129.4 L1522.8,139.6 L1530.4,149.4 L1538.0,159.0 L1545.7,168.2 L1553.3,177.2 L1560.9,185.8 L1568.6,194.2 L1576.2,202.3 L1583.8,210.1 L1591.4,217.7 L1599.1,225.1 L1606.7,232.2 L1614.3,239.2 L1622.0,245.9 L1629.6,252.4 L1637.2,258.7 L1644.8,264.8 L1652.5,270.8 L1660.1,276.6 L1667.7,282.2 L1675.4,287.7 L1683.0,293.0 L1690.6,298.1 L1698.2,303.1 L1705.9,308.0 L1713.5,312.8 L1721.1,317.4 L1728.8,321.9 L1736.4,326.2 L1744.0,330.5 L1751.6,334.6 L1759.3,338.7 L1766.9,342.6 L1774.5,346.4 L1782.2,350.2 L1789.8,353.8 L1797.4,357.3 L1805.0,360.8 L1812.7,364.2 L1820.3,367.4 L1827.9,370.6 L1835.6,373.8 L1843.2,376.8 L1850.8,379.8 L1858.4,382.7 L1866.1,385.5 L1873.7,388.3 L1881.3,391.0 L1888.9,393.7 L1896.6,396.2 L1904.2,398.8 L1911.8,401.2 L1919.5,403.6 L1927.1,406.0 L1934.7,408.3" fill="none" stroke="#ff0000" stroke-width="3.5" stroke-linecap="butt"/>
<line x1="1407.70" y1="10.00" x2="1407.70" y2="486.30" stroke="#000" stroke-width="2.0" />
<line x1="1398.70" y1="485.40" x2="1998.80" y2="485.40" stroke="#000" stroke-width="1.8" />
<line x1="1403.70" y1="11.00" x2="1998.80" y2="11.00" stroke="#000" stroke-width="2.0" />
<line x1="1997.50" y1="11.00" x2="1997.50" y2="486.40" stroke="#000" stroke-width="2.6" />
<line x1="1398.70" y1="485.40" x2="1407.70" y2="485.40" stroke="#000" stroke-width="1.7" />
<text transform="translate(1392.60,492.70) scale(1,1.07)" font-family='"Liberation Serif", "DejaVu Serif", serif' font-size="24.3" font-weight="bold" text-anchor="end" fill="#000" >5</text>
<line x1="1403.30" y1="453.80" x2="1407.70" y2="453.80" stroke="#000" stroke-width="1.5" />
<line x1="1398.70" y1="422.20" x2="1407.70" y2="422.20" stroke="#000" stroke-width="1.7" />
<text transform="translate(1392.60,429.50) scale(1,1.07)" font-family='"Liberation Serif", "DejaVu Serif", serif' font-size="24.3" font-weight="bold" text-anchor="end" fill="#000" >10</text>
<line x1="1403.30" y1="390.60" x2="1407.70" y2="390.60" stroke="#000" stroke-width="1.5" />
<line x1="1398.70" y1="359.00" x2="1407.70" y2="359.00" stroke="#000" stroke-width="1.7" />
<text transform="translate(1392.60,366.30) scale(1,1.07)" font-family='"Liberation Serif", "DejaVu Serif", serif' font-size="24.3" font-weight="bold" text-anchor="end" fill="#000" >15</text>
<line x1="1403.30" y1="327.40" x2="1407.70" y2="327.40" stroke="#000" stroke-width="1.5" />
<line x1="1398.70" y1="295.80" x2="1407.70" y2="295.80" stroke="#000" stroke-width="1.7" />
<text transform="translate(1392.60,303.10) scale(1,1.07)" font-family='"Liberation Serif", "DejaVu Serif", serif' font-size="24.3" font-weight="bold" text-anchor="end" fill="#000" >20</text>
<line x1="1403.30" y1="264.20" x2="1407.70" y2="264.20" stroke="#000" stroke-width="1.5" />
<line x1="1398.70" y1="232.60" x2="1407.70" y2="232.60" stroke="#000" stroke-width="1.7" />
<text transform="translate(1392.60,239.90) scale(1,1.07)" font-family='"Liberation Serif", "DejaVu Serif", serif' font-size="24.3" font-weight="bold" text-anchor="end" fill="#000" >25</text>
<line x1="1403.30" y1="201.00" x2="1407.70" y2="201.00" stroke="#000" stroke-width="1.5" />
<line x1="1398.70" y1="169.40" x2="1407.70" y2="169.40" stroke="#000" stroke-width="1.7" />
<text transform="translate(1392.60,176.70) scale(1,1.07)" font-family='"Liberation Serif", "DejaVu Serif", serif' font-size="24.3" font-weight="bold" text-anchor="end" fill="#000" >30</text>
<line x1="1403.30" y1="137.80" x2="1407.70" y2="137.80" stroke="#000" stroke-width="1.5" />
<line x1="1398.70" y1="106.20" x2="1407.70" y2="106.20" stroke="#000" stroke-width="1.7" />
<text transform="translate(1392.60,113.50) scale(1,1.07)" font-family='"Liberation Serif", "DejaVu Serif", serif' font-size="24.3" font-weight="bold" text-anchor="end" fill="#000" >35</text>
<line x1="1403.30" y1="74.60" x2="1407.70" y2="74.60" stroke="#000" stroke-width="1.5" />
<line x1="1398.70" y1="43.00" x2="1407.70" y2="43.00" stroke="#000" stroke-width="1.7" />
<text transform="translate(1392.60,50.30) scale(1,1.07)" font-family='"Liberation Serif", "DejaVu Serif", serif' font-size="24.3" font-weight="bold" text-anchor="end" fill="#000" >40</text>
<line x1="1408.09" y1="485.40" x2="1408.09" y2="490.40" stroke="#000" stroke-width="1.5" />
<line x1="1440.80" y1="485.40" x2="1440.80" y2="494.90" stroke="#000" stroke-width="1.7" />
<text transform="translate(1441.00,521.70) scale(1,1.12)" font-family='"Liberation Serif", "DejaVu Serif", serif' font-size="24.5" font-weight="bold" text-anchor="middle" fill="#000" >2.2</text>
<line x1="1473.51" y1="485.40" x2="1473.51" y2="490.40" stroke="#000" stroke-width="1.5" />
<line x1="1506.22" y1="485.40" x2="1506.22" y2="494.90" stroke="#000" stroke-width="1.7" />
<text transform="translate(1506.42,521.70) scale(1,1.12)" font-family='"Liberation Serif", "DejaVu Serif", serif' font-size="24.5" font-weight="bold" text-anchor="middle" fill="#000" >2.4</text>
<line x1="1538.93" y1="485.40" x2="1538.93" y2="490.40" stroke="#000" stroke-width="1.5" />
<line x1="1571.64" y1="485.40" x2="1571.64" y2="494.90" stroke="#000" stroke-width="1.7" />
<text transform="translate(1571.84,521.70) scale(1,1.12)" font-family='"Liberation Serif", "DejaVu Serif", serif' font-size="24.5" font-weight="bold" text-anchor="middle" fill="#000" >2.6</text>
<line x1="1604.35" y1="485.40" x2="1604.35" y2="490.40" stroke="#000" stroke-width="1.5" />
<line x1="1637.06" y1="485.40" x2="1637.06" y2="494.90" stroke="#000" stroke-width="1.7" />
<text transform="translate(1637.26,521.70) scale(1,1.12)" font-family='"Liberation Serif", "DejaVu Serif", serif' font-size="24.5" font-weight="bold" text-anchor="middle" fill="#000" >2.8</text>
<line x1="1669.77" y1="485.40" x2="1669.77" y2="490.40" stroke="#000" stroke-width="1.5" />
<line x1="1702.48" y1="485.40" x2="1702.48" y2="494.90" stroke="#000" stroke-width="1.7" />
<text transform="translate(1702.68,521.70) scale(1,1.12)" font-family='"Liberation Serif", "DejaVu Serif", serif' font-size="24.5" font-weight="bold" text-anchor="middle" fill="#000" >3.0</text>
<line x1="1735.19" y1="485.40" x2="1735.19" y2="490.40" stroke="#000" stroke-width="1.5" />
<line x1="1767.90" y1="485.40" x2="1767.90" y2="494.90" stroke="#000" stroke-width="1.7" />
<text transform="translate(1768.10,521.70) scale(1,1.12)" font-family='"Liberation Serif", "DejaVu Serif", serif' font-size="24.5" font-weight="bold" text-anchor="middle" fill="#000" >3.2</text>
<line x1="1800.61" y1="485.40" x2="1800.61" y2="490.40" stroke="#000" stroke-width="1.5" />
<line x1="1833.32" y1="485.40" x2="1833.32" y2="494.90" stroke="#000" stroke-width="1.7" />
<text transform="translate(1833.52,521.70) scale(1,1.12)" font-family='"Liberation Serif", "DejaVu Serif", serif' font-size="24.5" font-weight="bold" text-anchor="middle" fill="#000" >3.4</text>
<line x1="1866.03" y1="485.40" x2="1866.03" y2="490.40" stroke="#000" stroke-width="1.5" />
<line x1="1898.74" y1="485.40" x2="1898.74" y2="494.90" stroke="#000" stroke-width="1.7" />
<text transform="translate(1898.94,521.70) scale(1,1.12)" font-family='"Liberation Serif", "DejaVu Serif", serif' font-size="24.5" font-weight="bold" text-anchor="middle" fill="#000" >3.6</text>
<line x1="1931.45" y1="485.40" x2="1931.45" y2="490.40" stroke="#000" stroke-width="1.5" />
<line x1="1964.16" y1="485.40" x2="1964.16" y2="494.90" stroke="#000" stroke-width="1.7" />
<text transform="translate(1964.36,521.70) scale(1,1.12)" font-family='"Liberation Serif", "DejaVu Serif", serif' font-size="24.5" font-weight="bold" text-anchor="middle" fill="#000" >3.8</text>
<text transform="translate(1702.40,562.10) scale(1,1.06)" font-family='"Liberation Serif", "DejaVu Serif", serif' font-size="24.6" font-weight="bold" text-anchor="middle" fill="#000" >Particle Size (nm)</text>
<text transform="translate(1420.60,50.30) scale(1.05,1)" font-family='"Liberation Serif", "DejaVu Serif", serif' font-size="42" font-weight="bold" text-anchor="start" fill="#000" >c)</text>
<text transform="translate(1341.6,248.2) rotate(-90)" font-family='"Liberation Serif", "DejaVu Serif", serif' font-size="25.3" font-weight="bold" text-anchor="middle">TOF (S<tspan font-size="15.8" dy="-10.8" dx="0.6">-1</tspan><tspan dy="10.8" dx="-0.6">)</tspan></text>
<text x="1474.6" y="385.6" font-family='"Liberation Serif", "DejaVu Serif", serif' font-size="44.2" font-weight="bold">TOF~ d<tspan font-size="29" dy="-13" dx="0.5" letter-spacing="0.6">-2.54</tspan></text>
<text x="1645.8" y="153.2" font-family='"Liberation Serif", "DejaVu Serif", serif' font-size="37" font-weight="normal">d<tspan font-size="25.5" dy="-11" dx="0.3">-1</tspan></text>
<text x="1790.1" y="153.2" font-family='"Liberation Serif", "DejaVu Serif", serif' font-size="37" font-weight="normal">d<tspan font-size="25.5" dy="-11" dx="0.3">-2</tspan></text>
<text x="1926" y="153.2" font-family='"Liberation Serif", "DejaVu Serif", serif' font-size="37" font-weight="normal">d<tspan font-size="25.5" dy="-11" dx="0.3">-3</tspan></text>
<defs><radialGradient id="sg" cx="0.47" cy="0.40" r="0.64" fx="0.45" fy="0.30"><stop offset="0" stop-color="#b6b6b6"/><stop offset="0.4" stop-color="#a0a0a0"/><stop offset="0.72" stop-color="#808080"/><stop offset="0.92" stop-color="#565656"/><stop offset="1" stop-color="#3a3a3a"/></radialGradient><radialGradient id="so" cx="0.47" cy="0.40" r="0.64" fx="0.45" fy="0.30"><stop offset="0" stop-color="#d9782c"/><stop offset="0.4" stop-color="#c26014"/><stop offset="0.72" stop-color="#9a4a0c"/><stop offset="0.92" stop-color="#5e2c04"/><stop offset="1" stop-color="#3a1a02"/></radialGradient><radialGradient id="sb" cx="0.47" cy="0.40" r="0.64" fx="0.45" fy="0.30"><stop offset="0" stop-color="#30309a"/><stop offset="0.4" stop-color="#1a1a78"/><stop offset="0.72" stop-color="#101058"/><stop offset="0.92" stop-color="#060630"/><stop offset="1" stop-color="#040420"/></radialGradient></defs>
<g transform="translate(1598.64,6.41) scale(0.19402)">
<polygon points="154,120 445,100 517,190 560,290 577,388 365,468 80,405 105,260" fill="#5c5c5c" stroke="#5c5c5c" stroke-width="18" stroke-linejoin="round"/>
<circle cx="577.0" cy="390.0" r="22.0" fill="url(#sg)"/>
<circle cx="541.7" cy="403.0" r="22.5" fill="url(#sg)"/>
<circle cx="506.3" cy="416.0" r="23.0" fill="url(#sg)"/>
<circle cx="471.0" cy="429.0" r="23.5" fill="url(#sg)"/>
<circle cx="435.7" cy="442.0" r="24.0" fill="url(#sg)"/>
<circle cx="400.3" cy="455.0" r="24.5" fill="url(#sg)"/>
<circle cx="558.0" cy="378.0" r="22.5" fill="url(#sg)"/>
<circle cx="80.0" cy="408.0" r="25.0" fill="url(#sg)"/>
<circle cx="91.3" cy="348.6" r="25.0" fill="url(#sg)"/>
<circle cx="88.5" cy="363.4" r="25.0" fill="url(#sg)"/>
<circle cx="85.7" cy="378.2" r="25.0" fill="url(#sg)"/>
<circle cx="82.9" cy="393.1" r="25.0" fill="url(#sg)"/>
<circle cx="100.6" cy="302.9" r="25.0" fill="url(#sg)"/>
<circle cx="101.0" cy="315.8" r="25.0" fill="url(#sg)"/>
<circle cx="101.4" cy="328.8" r="25.0" fill="url(#sg)"/>
<circle cx="101.8" cy="341.8" r="25.0" fill="url(#sg)"/>
<circle cx="102.2" cy="354.7" r="25.0" fill="url(#sg)"/>
<circle cx="110.6" cy="257.1" r="25.0" fill="url(#sg)"/>
<circle cx="113.3" cy="268.9" r="25.0" fill="url(#sg)"/>
<circle cx="116.0" cy="280.6" r="25.0" fill="url(#sg)"/>
<circle cx="118.7" cy="292.3" r="25.0" fill="url(#sg)"/>
<circle cx="121.4" cy="304.1" r="25.0" fill="url(#sg)"/>
<circle cx="124.1" cy="315.8" r="25.0" fill="url(#sg)"/>
<circle cx="121.6" cy="211.4" r="25.0" fill="url(#sg)"/>
<circle cx="126.2" cy="222.3" r="25.0" fill="url(#sg)"/>
<circle cx="130.7" cy="233.1" r="25.0" fill="url(#sg)"/>
<circle cx="135.3" cy="244.0" r="25.0" fill="url(#sg)"/>
<circle cx="139.8" cy="254.8" r="25.0" fill="url(#sg)"/>
<circle cx="144.3" cy="265.7" r="25.0" fill="url(#sg)"/>
<circle cx="148.9" cy="276.5" r="25.0" fill="url(#sg)"/>
<circle cx="134.3" cy="165.7" r="25.0" fill="url(#sg)"/>
<circle cx="140.6" cy="175.9" r="25.0" fill="url(#sg)"/>
<circle cx="146.8" cy="186.1" r="25.0" fill="url(#sg)"/>
<circle cx="153.1" cy="196.3" r="25.0" fill="url(#sg)"/>
<circle cx="159.3" cy="206.4" r="25.0" fill="url(#sg)"/>
<circle cx="165.6" cy="216.6" r="25.0" fill="url(#sg)"/>
<circle cx="171.8" cy="226.8" r="25.0" fill="url(#sg)"/>
<circle cx="178.1" cy="237.0" r="25.0" fill="url(#sg)"/>
<circle cx="541.0" cy="236.3" r="23.0" fill="url(#sg)"/>
<circle cx="540.8" cy="232.3" r="25.0" fill="url(#sg)"/>
<circle cx="493.2" cy="237.7" r="25.0" fill="url(#sg)"/>
<circle cx="445.8" cy="241.2" r="25.0" fill="url(#sg)"/>
<circle cx="398.2" cy="242.9" r="25.0" fill="url(#sg)"/>
<circle cx="350.8" cy="243.0" r="25.0" fill="url(#sg)"/>
<circle cx="303.2" cy="243.0" r="25.0" fill="url(#sg)"/>
<circle cx="255.8" cy="243.0" r="25.0" fill="url(#sg)"/>
<circle cx="208.2" cy="243.0" r="25.0" fill="url(#sg)"/>
<circle cx="552.1" cy="272.9" r="23.0" fill="url(#sg)"/>
<circle cx="517.0" cy="274.4" r="25.0" fill="url(#sg)"/>
<circle cx="469.5" cy="279.9" r="25.0" fill="url(#sg)"/>
<circle cx="422.0" cy="283.1" r="25.0" fill="url(#sg)"/>
<circle cx="374.5" cy="284.0" r="25.0" fill="url(#sg)"/>
<circle cx="327.0" cy="284.0" r="25.0" fill="url(#sg)"/>
<circle cx="279.5" cy="284.0" r="25.0" fill="url(#sg)"/>
<circle cx="232.0" cy="284.0" r="25.0" fill="url(#sg)"/>
<circle cx="184.5" cy="284.0" r="25.0" fill="url(#sg)"/>
<circle cx="561.4" cy="309.0" r="23.0" fill="url(#sg)"/>
<circle cx="540.8" cy="309.3" r="25.0" fill="url(#sg)"/>
<circle cx="493.2" cy="317.2" r="25.0" fill="url(#sg)"/>
<circle cx="445.8" cy="322.4" r="25.0" fill="url(#sg)"/>
<circle cx="398.2" cy="324.8" r="25.0" fill="url(#sg)"/>
<circle cx="350.8" cy="325.0" r="25.0" fill="url(#sg)"/>
<circle cx="303.2" cy="325.0" r="25.0" fill="url(#sg)"/>
<circle cx="255.8" cy="325.0" r="25.0" fill="url(#sg)"/>
<circle cx="208.2" cy="325.0" r="25.0" fill="url(#sg)"/>
<circle cx="160.8" cy="325.0" r="25.0" fill="url(#sg)"/>
<circle cx="569.6" cy="344.7" r="23.0" fill="url(#sg)"/>
<circle cx="564.5" cy="342.0" r="25.0" fill="url(#sg)"/>
<circle cx="517.0" cy="352.8" r="25.0" fill="url(#sg)"/>
<circle cx="469.5" cy="360.4" r="25.0" fill="url(#sg)"/>
<circle cx="422.0" cy="364.8" r="25.0" fill="url(#sg)"/>
<circle cx="374.5" cy="366.0" r="25.0" fill="url(#sg)"/>
<circle cx="327.0" cy="366.0" r="25.0" fill="url(#sg)"/>
<circle cx="279.5" cy="366.0" r="25.0" fill="url(#sg)"/>
<circle cx="232.0" cy="366.0" r="25.0" fill="url(#sg)"/>
<circle cx="184.5" cy="366.0" r="25.0" fill="url(#sg)"/>
<circle cx="137.0" cy="366.0" r="25.0" fill="url(#sg)"/>
<circle cx="493.2" cy="396.7" r="25.0" fill="url(#sg)"/>
<circle cx="445.8" cy="403.5" r="25.0" fill="url(#sg)"/>
<circle cx="398.2" cy="406.7" r="25.0" fill="url(#sg)"/>
<circle cx="350.8" cy="407.0" r="25.0" fill="url(#sg)"/>
<circle cx="303.2" cy="407.0" r="25.0" fill="url(#sg)"/>
<circle cx="255.8" cy="407.0" r="25.0" fill="url(#sg)"/>
<circle cx="208.2" cy="407.0" r="25.0" fill="url(#sg)"/>
<circle cx="160.8" cy="407.0" r="25.0" fill="url(#sg)"/>
<circle cx="327.0" cy="448.0" r="25.0" fill="url(#sg)"/>
<circle cx="127.5" cy="418.0" r="25.0" fill="url(#sg)"/>
<circle cx="175.0" cy="428.0" r="25.0" fill="url(#sg)"/>
<circle cx="222.5" cy="438.0" r="25.0" fill="url(#sg)"/>
<circle cx="270.0" cy="448.0" r="25.0" fill="url(#sg)"/>
<circle cx="317.5" cy="458.0" r="25.0" fill="url(#sg)"/>
<circle cx="365.0" cy="468.0" r="25.0" fill="url(#sg)"/>
<circle cx="152.0" cy="122.0" r="24.2" fill="url(#sg)"/>
<circle cx="160.7" cy="131.7" r="24.2" fill="url(#sg)"/>
<circle cx="169.3" cy="141.3" r="24.2" fill="url(#sg)"/>
<circle cx="178.0" cy="151.0" r="24.2" fill="url(#sg)"/>
<circle cx="186.7" cy="160.7" r="24.2" fill="url(#sg)"/>
<circle cx="195.3" cy="170.3" r="24.2" fill="url(#sg)"/>
<circle cx="204.0" cy="180.0" r="24.2" fill="url(#sg)"/>
<circle cx="212.7" cy="189.7" r="24.2" fill="url(#sg)"/>
<circle cx="221.3" cy="199.3" r="24.2" fill="url(#sg)"/>
<circle cx="230.0" cy="209.0" r="24.2" fill="url(#sg)"/>
<circle cx="200.5" cy="118.7" r="24.2" fill="url(#sg)"/>
<circle cx="209.1" cy="128.4" r="24.2" fill="url(#sg)"/>
<circle cx="217.6" cy="138.1" r="24.2" fill="url(#sg)"/>
<circle cx="226.2" cy="147.8" r="24.2" fill="url(#sg)"/>
<circle cx="234.7" cy="157.6" r="24.2" fill="url(#sg)"/>
<circle cx="243.3" cy="167.3" r="24.2" fill="url(#sg)"/>
<circle cx="251.8" cy="177.0" r="24.2" fill="url(#sg)"/>
<circle cx="260.4" cy="186.7" r="24.2" fill="url(#sg)"/>
<circle cx="268.9" cy="196.4" r="24.2" fill="url(#sg)"/>
<circle cx="277.5" cy="206.2" r="24.2" fill="url(#sg)"/>
<circle cx="249.0" cy="115.3" r="24.2" fill="url(#sg)"/>
<circle cx="257.4" cy="125.1" r="24.2" fill="url(#sg)"/>
<circle cx="265.9" cy="134.9" r="24.2" fill="url(#sg)"/>
<circle cx="274.3" cy="144.7" r="24.2" fill="url(#sg)"/>
<circle cx="282.8" cy="154.4" r="24.2" fill="url(#sg)"/>
<circle cx="291.2" cy="164.2" r="24.2" fill="url(#sg)"/>
<circle cx="299.7" cy="174.0" r="24.2" fill="url(#sg)"/>
<circle cx="308.1" cy="183.8" r="24.2" fill="url(#sg)"/>
<circle cx="316.6" cy="193.6" r="24.2" fill="url(#sg)"/>
<circle cx="325.0" cy="203.3" r="24.2" fill="url(#sg)"/>
<circle cx="297.5" cy="112.0" r="24.2" fill="url(#sg)"/>
<circle cx="305.8" cy="121.8" r="24.2" fill="url(#sg)"/>
<circle cx="314.2" cy="131.7" r="24.2" fill="url(#sg)"/>
<circle cx="322.5" cy="141.5" r="24.2" fill="url(#sg)"/>
<circle cx="330.8" cy="151.3" r="24.2" fill="url(#sg)"/>
<circle cx="339.2" cy="161.2" r="24.2" fill="url(#sg)"/>
<circle cx="347.5" cy="171.0" r="24.2" fill="url(#sg)"/>
<circle cx="355.8" cy="180.8" r="24.2" fill="url(#sg)"/>
<circle cx="364.2" cy="190.7" r="24.2" fill="url(#sg)"/>
<circle cx="372.5" cy="200.5" r="24.2" fill="url(#sg)"/>
<circle cx="346.0" cy="108.7" r="24.2" fill="url(#sg)"/>
<circle cx="354.2" cy="118.6" r="24.2" fill="url(#sg)"/>
<circle cx="362.4" cy="128.4" r="24.2" fill="url(#sg)"/>
<circle cx="370.7" cy="138.3" r="24.2" fill="url(#sg)"/>
<circle cx="378.9" cy="148.2" r="24.2" fill="url(#sg)"/>
<circle cx="387.1" cy="158.1" r="24.2" fill="url(#sg)"/>
<circle cx="395.3" cy="168.0" r="24.2" fill="url(#sg)"/>
<circle cx="403.6" cy="177.9" r="24.2" fill="url(#sg)"/>
<circle cx="411.8" cy="187.8" r="24.2" fill="url(#sg)"/>
<circle cx="420.0" cy="197.7" r="24.2" fill="url(#sg)"/>
<circle cx="394.5" cy="105.3" r="24.2" fill="url(#sg)"/>
<circle cx="402.6" cy="115.3" r="24.2" fill="url(#sg)"/>
<circle cx="410.7" cy="125.2" r="24.2" fill="url(#sg)"/>
<circle cx="418.8" cy="135.2" r="24.2" fill="url(#sg)"/>
<circle cx="426.9" cy="145.1" r="24.2" fill="url(#sg)"/>
<circle cx="435.1" cy="155.1" r="24.2" fill="url(#sg)"/>
<circle cx="443.2" cy="165.0" r="24.2" fill="url(#sg)"/>
<circle cx="451.3" cy="174.9" r="24.2" fill="url(#sg)"/>
<circle cx="459.4" cy="184.9" r="24.2" fill="url(#sg)"/>
<circle cx="467.5" cy="194.8" r="24.2" fill="url(#sg)"/>
<circle cx="443.0" cy="102.0" r="24.2" fill="url(#sg)"/>
<circle cx="451.0" cy="112.0" r="24.2" fill="url(#sg)"/>
<circle cx="459.0" cy="122.0" r="24.2" fill="url(#sg)"/>
<circle cx="467.0" cy="132.0" r="24.2" fill="url(#sg)"/>
<circle cx="475.0" cy="142.0" r="24.2" fill="url(#sg)"/>
<circle cx="483.0" cy="152.0" r="24.2" fill="url(#sg)"/>
<circle cx="491.0" cy="162.0" r="24.2" fill="url(#sg)"/>
<circle cx="499.0" cy="172.0" r="24.2" fill="url(#sg)"/>
<circle cx="507.0" cy="182.0" r="24.2" fill="url(#sg)"/>
<circle cx="515.0" cy="192.0" r="24.2" fill="url(#sg)"/>
</g>
<g transform="translate(1735.00,10.00) scale(0.19402)">
<polygon points="154,120 445,100 517,190 560,290 577,388 365,468 80,405 105,260" fill="#5c5c5c" stroke="#5c5c5c" stroke-width="18" stroke-linejoin="round"/>
<circle cx="577.0" cy="390.0" r="22.0" fill="url(#sg)"/>
<circle cx="541.7" cy="403.0" r="22.5" fill="url(#so)"/>
<circle cx="506.3" cy="416.0" r="23.0" fill="url(#so)"/>
<circle cx="471.0" cy="429.0" r="23.5" fill="url(#so)"/>
<circle cx="435.7" cy="442.0" r="24.0" fill="url(#so)"/>
<circle cx="400.3" cy="455.0" r="24.5" fill="url(#so)"/>
<circle cx="558.0" cy="378.0" r="22.5" fill="url(#sg)"/>
<circle cx="80.0" cy="408.0" r="25.0" fill="url(#sg)"/>
<circle cx="91.3" cy="348.6" r="25.0" fill="url(#sg)"/>
<circle cx="88.5" cy="363.4" r="25.0" fill="url(#sg)"/>
<circle cx="85.7" cy="378.2" r="25.0" fill="url(#sg)"/>
<circle cx="82.9" cy="393.1" r="25.0" fill="url(#sg)"/>
<circle cx="100.6" cy="302.9" r="25.0" fill="url(#sg)"/>
<circle cx="101.0" cy="315.8" r="25.0" fill="url(#sg)"/>
<circle cx="101.4" cy="328.8" r="25.0" fill="url(#sg)"/>
<circle cx="101.8" cy="341.8" r="25.0" fill="url(#sg)"/>
<circle cx="102.2" cy="354.7" r="25.0" fill="url(#sg)"/>
<circle cx="110.6" cy="257.1" r="25.0" fill="url(#sg)"/>
<circle cx="113.3" cy="268.9" r="25.0" fill="url(#sg)"/>
<circle cx="116.0" cy="280.6" r="25.0" fill="url(#sg)"/>
<circle cx="118.7" cy="292.3" r="25.0" fill="url(#sg)"/>
<circle cx="121.4" cy="304.1" r="25.0" fill="url(#sg)"/>
<circle cx="124.1" cy="315.8" r="25.0" fill="url(#sg)"/>
<circle cx="121.6" cy="211.4" r="25.0" fill="url(#sg)"/>
<circle cx="126.2" cy="222.3" r="25.0" fill="url(#sg)"/>
<circle cx="130.7" cy="233.1" r="25.0" fill="url(#sg)"/>
<circle cx="135.3" cy="244.0" r="25.0" fill="url(#sg)"/>
<circle cx="139.8" cy="254.8" r="25.0" fill="url(#sg)"/>
<circle cx="144.3" cy="265.7" r="25.0" fill="url(#sg)"/>
<circle cx="148.9" cy="276.5" r="25.0" fill="url(#sg)"/>
<circle cx="134.3" cy="165.7" r="25.0" fill="url(#sg)"/>
<circle cx="140.6" cy="175.9" r="25.0" fill="url(#sg)"/>
<circle cx="146.8" cy="186.1" r="25.0" fill="url(#sg)"/>
<circle cx="153.1" cy="196.3" r="25.0" fill="url(#sg)"/>
<circle cx="159.3" cy="206.4" r="25.0" fill="url(#sg)"/>
<circle cx="165.6" cy="216.6" r="25.0" fill="url(#sg)"/>
<circle cx="171.8" cy="226.8" r="25.0" fill="url(#sg)"/>
<circle cx="178.1" cy="237.0" r="25.0" fill="url(#sg)"/>
<circle cx="541.0" cy="236.3" r="23.0" fill="url(#sg)"/>
<circle cx="540.8" cy="232.3" r="25.0" fill="url(#sg)"/>
<circle cx="493.2" cy="237.7" r="25.0" fill="url(#sg)"/>
<circle cx="445.8" cy="241.2" r="25.0" fill="url(#sg)"/>
<circle cx="398.2" cy="242.9" r="25.0" fill="url(#sg)"/>
<circle cx="350.8" cy="243.0" r="25.0" fill="url(#sg)"/>
<circle cx="303.2" cy="243.0" r="25.0" fill="url(#sg)"/>
<circle cx="255.8" cy="243.0" r="25.0" fill="url(#sg)"/>
<circle cx="208.2" cy="243.0" r="25.0" fill="url(#sg)"/>
<circle cx="552.1" cy="272.9" r="23.0" fill="url(#sg)"/>
<circle cx="517.0" cy="274.4" r="25.0" fill="url(#sg)"/>
<circle cx="469.5" cy="279.9" r="25.0" fill="url(#sg)"/>
<circle cx="422.0" cy="283.1" r="25.0" fill="url(#sg)"/>
<circle cx="374.5" cy="284.0" r="25.0" fill="url(#sg)"/>
<circle cx="327.0" cy="284.0" r="25.0" fill="url(#sg)"/>
<circle cx="279.5" cy="284.0" r="25.0" fill="url(#sg)"/>
<circle cx="232.0" cy="284.0" r="25.0" fill="url(#sg)"/>
<circle cx="184.5" cy="284.0" r="25.0" fill="url(#sg)"/>
<circle cx="561.4" cy="309.0" r="23.0" fill="url(#sg)"/>
<circle cx="540.8" cy="309.3" r="25.0" fill="url(#sg)"/>
<circle cx="493.2" cy="317.2" r="25.0" fill="url(#sg)"/>
<circle cx="445.8" cy="322.4" r="25.0" fill="url(#sg)"/>
<circle cx="398.2" cy="324.8" r="25.0" fill="url(#sg)"/>
<circle cx="350.8" cy="325.0" r="25.0" fill="url(#sg)"/>
<circle cx="303.2" cy="325.0" r="25.0" fill="url(#sg)"/>
<circle cx="255.8" cy="325.0" r="25.0" fill="url(#sg)"/>
<circle cx="208.2" cy="325.0" r="25.0" fill="url(#sg)"/>
<circle cx="160.8" cy="325.0" r="25.0" fill="url(#sg)"/>
<circle cx="569.6" cy="344.7" r="23.0" fill="url(#sg)"/>
<circle cx="564.5" cy="342.0" r="25.0" fill="url(#sg)"/>
<circle cx="517.0" cy="352.8" r="25.0" fill="url(#sg)"/>
<circle cx="469.5" cy="360.4" r="25.0" fill="url(#sg)"/>
<circle cx="422.0" cy="364.8" r="25.0" fill="url(#sg)"/>
<circle cx="374.5" cy="366.0" r="25.0" fill="url(#sg)"/>
<circle cx="327.0" cy="366.0" r="25.0" fill="url(#sg)"/>
<circle cx="279.5" cy="366.0" r="25.0" fill="url(#sg)"/>
<circle cx="232.0" cy="366.0" r="25.0" fill="url(#sg)"/>
<circle cx="184.5" cy="366.0" r="25.0" fill="url(#sg)"/>
<circle cx="137.0" cy="366.0" r="25.0" fill="url(#sg)"/>
<circle cx="493.2" cy="396.7" r="25.0" fill="url(#sg)"/>
<circle cx="445.8" cy="403.5" r="25.0" fill="url(#sg)"/>
<circle cx="398.2" cy="406.7" r="25.0" fill="url(#sg)"/>
<circle cx="350.8" cy="407.0" r="25.0" fill="url(#sg)"/>
<circle cx="303.2" cy="407.0" r="25.0" fill="url(#sg)"/>
<circle cx="255.8" cy="407.0" r="25.0" fill="url(#sg)"/>
<circle cx="208.2" cy="407.0" r="25.0" fill="url(#sg)"/>
<circle cx="160.8" cy="407.0" r="25.0" fill="url(#sg)"/>
<circle cx="327.0" cy="448.0" r="25.0" fill="url(#sg)"/>
<circle cx="127.5" cy="418.0" r="25.0" fill="url(#so)"/>
<circle cx="175.0" cy="428.0" r="25.0" fill="url(#so)"/>
<circle cx="222.5" cy="438.0" r="25.0" fill="url(#so)"/>
<circle cx="270.0" cy="448.0" r="25.0" fill="url(#so)"/>
<circle cx="317.5" cy="458.0" r="25.0" fill="url(#so)"/>
<circle cx="365.0" cy="468.0" r="25.0" fill="url(#sg)"/>
<circle cx="152.0" cy="122.0" r="24.2" fill="url(#sg)"/>
<circle cx="160.7" cy="131.7" r="24.2" fill="url(#sg)"/>
<circle cx="169.3" cy="141.3" r="24.2" fill="url(#sg)"/>
<circle cx="178.0" cy="151.0" r="24.2" fill="url(#sg)"/>
<circle cx="186.7" cy="160.7" r="24.2" fill="url(#sg)"/>
<circle cx="195.3" cy="170.3" r="24.2" fill="url(#sg)"/>
<circle cx="204.0" cy="180.0" r="24.2" fill="url(#sg)"/>
<circle cx="212.7" cy="189.7" r="24.2" fill="url(#sg)"/>
<circle cx="221.3" cy="199.3" r="24.2" fill="url(#sg)"/>
<circle cx="230.0" cy="209.0" r="24.2" fill="url(#sg)"/>
<circle cx="200.5" cy="118.7" r="24.2" fill="url(#sg)"/>
<circle cx="209.1" cy="128.4" r="24.2" fill="url(#sg)"/>
<circle cx="217.6" cy="138.1" r="24.2" fill="url(#sg)"/>
<circle cx="226.2" cy="147.8" r="24.2" fill="url(#sg)"/>
<circle cx="234.7" cy="157.6" r="24.2" fill="url(#sg)"/>
<circle cx="243.3" cy="167.3" r="24.2" fill="url(#sg)"/>
<circle cx="251.8" cy="177.0" r="24.2" fill="url(#sg)"/>
<circle cx="260.4" cy="186.7" r="24.2" fill="url(#sg)"/>
<circle cx="268.9" cy="196.4" r="24.2" fill="url(#sg)"/>
<circle cx="277.5" cy="206.2" r="24.2" fill="url(#sg)"/>
<circle cx="249.0" cy="115.3" r="24.2" fill="url(#sg)"/>
<circle cx="257.4" cy="125.1" r="24.2" fill="url(#sg)"/>
<circle cx="265.9" cy="134.9" r="24.2" fill="url(#sg)"/>
<circle cx="274.3" cy="144.7" r="24.2" fill="url(#sg)"/>
<circle cx="282.8" cy="154.4" r="24.2" fill="url(#sg)"/>
<circle cx="291.2" cy="164.2" r="24.2" fill="url(#sg)"/>
<circle cx="299.7" cy="174.0" r="24.2" fill="url(#sg)"/>
<circle cx="308.1" cy="183.8" r="24.2" fill="url(#sg)"/>
<circle cx="316.6" cy="193.6" r="24.2" fill="url(#sg)"/>
<circle cx="325.0" cy="203.3" r="24.2" fill="url(#sg)"/>
<circle cx="297.5" cy="112.0" r="24.2" fill="url(#sg)"/>
<circle cx="305.8" cy="121.8" r="24.2" fill="url(#sg)"/>
<circle cx="314.2" cy="131.7" r="24.2" fill="url(#sg)"/>
<circle cx="322.5" cy="141.5" r="24.2" fill="url(#sg)"/>
<circle cx="330.8" cy="151.3" r="24.2" fill="url(#sg)"/>
<circle cx="339.2" cy="161.2" r="24.2" fill="url(#sg)"/>
<circle cx="347.5" cy="171.0" r="24.2" fill="url(#sg)"/>
<circle cx="355.8" cy="180.8" r="24.2" fill="url(#sg)"/>
<circle cx="364.2" cy="190.7" r="24.2" fill="url(#sg)"/>
<circle cx="372.5" cy="200.5" r="24.2" fill="url(#sg)"/>
<circle cx="346.0" cy="108.7" r="24.2" fill="url(#sg)"/>
<circle cx="354.2" cy="118.6" r="24.2" fill="url(#sg)"/>
<circle cx="362.4" cy="128.4" r="24.2" fill="url(#sg)"/>
<circle cx="370.7" cy="138.3" r="24.2" fill="url(#sg)"/>
<circle cx="378.9" cy="148.2" r="24.2" fill="url(#sg)"/>
<circle cx="387.1" cy="158.1" r="24.2" fill="url(#sg)"/>
<circle cx="395.3" cy="168.0" r="24.2" fill="url(#sg)"/>
<circle cx="403.6" cy="177.9" r="24.2" fill="url(#sg)"/>
<circle cx="411.8" cy="187.8" r="24.2" fill="url(#sg)"/>
<circle cx="420.0" cy="197.7" r="24.2" fill="url(#sg)"/>
<circle cx="394.5" cy="105.3" r="24.2" fill="url(#sg)"/>
<circle cx="402.6" cy="115.3" r="24.2" fill="url(#sg)"/>
<circle cx="410.7" cy="125.2" r="24.2" fill="url(#sg)"/>
<circle cx="418.8" cy="135.2" r="24.2" fill="url(#sg)"/>
<circle cx="426.9" cy="145.1" r="24.2" fill="url(#sg)"/>
<circle cx="435.1" cy="155.1" r="24.2" fill="url(#sg)"/>
<circle cx="443.2" cy="165.0" r="24.2" fill="url(#sg)"/>
<circle cx="451.3" cy="174.9" r="24.2" fill="url(#sg)"/>
<circle cx="459.4" cy="184.9" r="24.2" fill="url(#sg)"/>
<circle cx="467.5" cy="194.8" r="24.2" fill="url(#sg)"/>
<circle cx="443.0" cy="102.0" r="24.2" fill="url(#sg)"/>
<circle cx="451.0" cy="112.0" r="24.2" fill="url(#sg)"/>
<circle cx="459.0" cy="122.0" r="24.2" fill="url(#sg)"/>
<circle cx="467.0" cy="132.0" r="24.2" fill="url(#sg)"/>
<circle cx="475.0" cy="142.0" r="24.2" fill="url(#sg)"/>
<circle cx="483.0" cy="152.0" r="24.2" fill="url(#sg)"/>
<circle cx="491.0" cy="162.0" r="24.2" fill="url(#sg)"/>
<circle cx="499.0" cy="172.0" r="24.2" fill="url(#sg)"/>
<circle cx="507.0" cy="182.0" r="24.2" fill="url(#sg)"/>
<circle cx="515.0" cy="192.0" r="24.2" fill="url(#sg)"/>
</g>
<g transform="translate(1871.69,10.19) scale(0.19402)">
<polygon points="154,120 445,100 517,190 560,290 577,388 365,468 80,405 105,260" fill="#5c5c5c" stroke="#5c5c5c" stroke-width="18" stroke-linejoin="round"/>
<circle cx="577.0" cy="390.0" r="22.0" fill="url(#sb)"/>
<circle cx="541.7" cy="403.0" r="22.5" fill="url(#sg)"/>
<circle cx="506.3" cy="416.0" r="23.0" fill="url(#sg)"/>
<circle cx="471.0" cy="429.0" r="23.5" fill="url(#sg)"/>
<circle cx="435.7" cy="442.0" r="24.0" fill="url(#sg)"/>
<circle cx="400.3" cy="455.0" r="24.5" fill="url(#sg)"/>
<circle cx="558.0" cy="378.0" r="22.5" fill="url(#sg)"/>
<circle cx="80.0" cy="408.0" r="25.0" fill="url(#sb)"/>
<circle cx="91.3" cy="348.6" r="25.0" fill="url(#sg)"/>
<circle cx="88.5" cy="363.4" r="25.0" fill="url(#sg)"/>
<circle cx="85.7" cy="378.2" r="25.0" fill="url(#sg)"/>
<circle cx="82.9" cy="393.1" r="25.0" fill="url(#sg)"/>
<circle cx="100.6" cy="302.9" r="25.0" fill="url(#sg)"/>
<circle cx="101.0" cy="315.8" r="25.0" fill="url(#sg)"/>
<circle cx="101.4" cy="328.8" r="25.0" fill="url(#sg)"/>
<circle cx="101.8" cy="341.8" r="25.0" fill="url(#sg)"/>
<circle cx="102.2" cy="354.7" r="25.0" fill="url(#sg)"/>
<circle cx="110.6" cy="257.1" r="25.0" fill="url(#sg)"/>
<circle cx="113.3" cy="268.9" r="25.0" fill="url(#sg)"/>
<circle cx="116.0" cy="280.6" r="25.0" fill="url(#sg)"/>
<circle cx="118.7" cy="292.3" r="25.0" fill="url(#sg)"/>
<circle cx="121.4" cy="304.1" r="25.0" fill="url(#sg)"/>
<circle cx="124.1" cy="315.8" r="25.0" fill="url(#sg)"/>
<circle cx="121.6" cy="211.4" r="25.0" fill="url(#sg)"/>
<circle cx="126.2" cy="222.3" r="25.0" fill="url(#sg)"/>
<circle cx="130.7" cy="233.1" r="25.0" fill="url(#sg)"/>
<circle cx="135.3" cy="244.0" r="25.0" fill="url(#sg)"/>
<circle cx="139.8" cy="254.8" r="25.0" fill="url(#sg)"/>
<circle cx="144.3" cy="265.7" r="25.0" fill="url(#sg)"/>
<circle cx="148.9" cy="276.5" r="25.0" fill="url(#sg)"/>
<circle cx="134.3" cy="165.7" r="25.0" fill="url(#sg)"/>
<circle cx="140.6" cy="175.9" r="25.0" fill="url(#sg)"/>
<circle cx="146.8" cy="186.1" r="25.0" fill="url(#sg)"/>
<circle cx="153.1" cy="196.3" r="25.0" fill="url(#sg)"/>
<circle cx="159.3" cy="206.4" r="25.0" fill="url(#sg)"/>
<circle cx="165.6" cy="216.6" r="25.0" fill="url(#sg)"/>
<circle cx="171.8" cy="226.8" r="25.0" fill="url(#sg)"/>
<circle cx="178.1" cy="237.0" r="25.0" fill="url(#sg)"/>
<circle cx="541.0" cy="236.3" r="23.0" fill="url(#sg)"/>
<circle cx="540.8" cy="232.3" r="25.0" fill="url(#sg)"/>
<circle cx="493.2" cy="237.7" r="25.0" fill="url(#sg)"/>
<circle cx="445.8" cy="241.2" r="25.0" fill="url(#sg)"/>
<circle cx="398.2" cy="242.9" r="25.0" fill="url(#sg)"/>
<circle cx="350.8" cy="243.0" r="25.0" fill="url(#sg)"/>
<circle cx="303.2" cy="243.0" r="25.0" fill="url(#sg)"/>
<circle cx="255.8" cy="243.0" r="25.0" fill="url(#sg)"/>
<circle cx="208.2" cy="243.0" r="25.0" fill="url(#sg)"/>
<circle cx="552.1" cy="272.9" r="23.0" fill="url(#sg)"/>
<circle cx="517.0" cy="274.4" r="25.0" fill="url(#sg)"/>
<circle cx="469.5" cy="279.9" r="25.0" fill="url(#sg)"/>
<circle cx="422.0" cy="283.1" r="25.0" fill="url(#sg)"/>
<circle cx="374.5" cy="284.0" r="25.0" fill="url(#sg)"/>
<circle cx="327.0" cy="284.0" r="25.0" fill="url(#sg)"/>
<circle cx="279.5" cy="284.0" r="25.0" fill="url(#sg)"/>
<circle cx="232.0" cy="284.0" r="25.0" fill="url(#sg)"/>
<circle cx="184.5" cy="284.0" r="25.0" fill="url(#sg)"/>
<circle cx="561.4" cy="309.0" r="23.0" fill="url(#sg)"/>
<circle cx="540.8" cy="309.3" r="25.0" fill="url(#sg)"/>
<circle cx="493.2" cy="317.2" r="25.0" fill="url(#sg)"/>
<circle cx="445.8" cy="322.4" r="25.0" fill="url(#sg)"/>
<circle cx="398.2" cy="324.8" r="25.0" fill="url(#sg)"/>
<circle cx="350.8" cy="325.0" r="25.0" fill="url(#sg)"/>
<circle cx="303.2" cy="325.0" r="25.0" fill="url(#sg)"/>
<circle cx="255.8" cy="325.0" r="25.0" fill="url(#sg)"/>
<circle cx="208.2" cy="325.0" r="25.0" fill="url(#sg)"/>
<circle cx="160.8" cy="325.0" r="25.0" fill="url(#sg)"/>
<circle cx="569.6" cy="344.7" r="23.0" fill="url(#sg)"/>
<circle cx="564.5" cy="342.0" r="25.0" fill="url(#sg)"/>
<circle cx="517.0" cy="352.8" r="25.0" fill="url(#sg)"/>
<circle cx="469.5" cy="360.4" r="25.0" fill="url(#sg)"/>
<circle cx="422.0" cy="364.8" r="25.0" fill="url(#sg)"/>
<circle cx="374.5" cy="366.0" r="25.0" fill="url(#sg)"/>
<circle cx="327.0" cy="366.0" r="25.0" fill="url(#sg)"/>
<circle cx="279.5" cy="366.0" r="25.0" fill="url(#sg)"/>
<circle cx="232.0" cy="366.0" r="25.0" fill="url(#sg)"/>
<circle cx="184.5" cy="366.0" r="25.0" fill="url(#sg)"/>
<circle cx="137.0" cy="366.0" r="25.0" fill="url(#sg)"/>
<circle cx="493.2" cy="396.7" r="25.0" fill="url(#sg)"/>
<circle cx="445.8" cy="403.5" r="25.0" fill="url(#sg)"/>
<circle cx="398.2" cy="406.7" r="25.0" fill="url(#sg)"/>
<circle cx="350.8" cy="407.0" r="25.0" fill="url(#sg)"/>
<circle cx="303.2" cy="407.0" r="25.0" fill="url(#sg)"/>
<circle cx="255.8" cy="407.0" r="25.0" fill="url(#sg)"/>
<circle cx="208.2" cy="407.0" r="25.0" fill="url(#sg)"/>
<circle cx="160.8" cy="407.0" r="25.0" fill="url(#sg)"/>
<circle cx="327.0" cy="448.0" r="25.0" fill="url(#sg)"/>
<circle cx="127.5" cy="418.0" r="25.0" fill="url(#sg)"/>
<circle cx="175.0" cy="428.0" r="25.0" fill="url(#sg)"/>
<circle cx="222.5" cy="438.0" r="25.0" fill="url(#sg)"/>
<circle cx="270.0" cy="448.0" r="25.0" fill="url(#sg)"/>
<circle cx="317.5" cy="458.0" r="25.0" fill="url(#sg)"/>
<circle cx="365.0" cy="468.0" r="25.0" fill="url(#sb)"/>
<circle cx="152.0" cy="122.0" r="24.2" fill="url(#sg)"/>
<circle cx="160.7" cy="131.7" r="24.2" fill="url(#sg)"/>
<circle cx="169.3" cy="141.3" r="24.2" fill="url(#sg)"/>
<circle cx="178.0" cy="151.0" r="24.2" fill="url(#sg)"/>
<circle cx="186.7" cy="160.7" r="24.2" fill="url(#sg)"/>
<circle cx="195.3" cy="170.3" r="24.2" fill="url(#sg)"/>
<circle cx="204.0" cy="180.0" r="24.2" fill="url(#sg)"/>
<circle cx="212.7" cy="189.7" r="24.2" fill="url(#sg)"/>
<circle cx="221.3" cy="199.3" r="24.2" fill="url(#sg)"/>
<circle cx="230.0" cy="209.0" r="24.2" fill="url(#sg)"/>
<circle cx="200.5" cy="118.7" r="24.2" fill="url(#sg)"/>
<circle cx="209.1" cy="128.4" r="24.2" fill="url(#sg)"/>
<circle cx="217.6" cy="138.1" r="24.2" fill="url(#sg)"/>
<circle cx="226.2" cy="147.8" r="24.2" fill="url(#sg)"/>
<circle cx="234.7" cy="157.6" r="24.2" fill="url(#sg)"/>
<circle cx="243.3" cy="167.3" r="24.2" fill="url(#sg)"/>
<circle cx="251.8" cy="177.0" r="24.2" fill="url(#sg)"/>
<circle cx="260.4" cy="186.7" r="24.2" fill="url(#sg)"/>
<circle cx="268.9" cy="196.4" r="24.2" fill="url(#sg)"/>
<circle cx="277.5" cy="206.2" r="24.2" fill="url(#sg)"/>
<circle cx="249.0" cy="115.3" r="24.2" fill="url(#sg)"/>
<circle cx="257.4" cy="125.1" r="24.2" fill="url(#sg)"/>
<circle cx="265.9" cy="134.9" r="24.2" fill="url(#sg)"/>
<circle cx="274.3" cy="144.7" r="24.2" fill="url(#sg)"/>
<circle cx="282.8" cy="154.4" r="24.2" fill="url(#sg)"/>
<circle cx="291.2" cy="164.2" r="24.2" fill="url(#sg)"/>
<circle cx="299.7" cy="174.0" r="24.2" fill="url(#sg)"/>
<circle cx="308.1" cy="183.8" r="24.2" fill="url(#sg)"/>
<circle cx="316.6" cy="193.6" r="24.2" fill="url(#sg)"/>
<circle cx="325.0" cy="203.3" r="24.2" fill="url(#sg)"/>
<circle cx="297.5" cy="112.0" r="24.2" fill="url(#sg)"/>
<circle cx="305.8" cy="121.8" r="24.2" fill="url(#sg)"/>
<circle cx="314.2" cy="131.7" r="24.2" fill="url(#sg)"/>
<circle cx="322.5" cy="141.5" r="24.2" fill="url(#sg)"/>
<circle cx="330.8" cy="151.3" r="24.2" fill="url(#sg)"/>
<circle cx="339.2" cy="161.2" r="24.2" fill="url(#sg)"/>
<circle cx="347.5" cy="171.0" r="24.2" fill="url(#sg)"/>
<circle cx="355.8" cy="180.8" r="24.2" fill="url(#sg)"/>
<circle cx="364.2" cy="190.7" r="24.2" fill="url(#sg)"/>
<circle cx="372.5" cy="200.5" r="24.2" fill="url(#sg)"/>
<circle cx="346.0" cy="108.7" r="24.2" fill="url(#sg)"/>
<circle cx="354.2" cy="118.6" r="24.2" fill="url(#sg)"/>
<circle cx="362.4" cy="128.4" r="24.2" fill="url(#sg)"/>
<circle cx="370.7" cy="138.3" r="24.2" fill="url(#sg)"/>
<circle cx="378.9" cy="148.2" r="24.2" fill="url(#sg)"/>
<circle cx="387.1" cy="158.1" r="24.2" fill="url(#sg)"/>
<circle cx="395.3" cy="168.0" r="24.2" fill="url(#sg)"/>
<circle cx="403.6" cy="177.9" r="24.2" fill="url(#sg)"/>
<circle cx="411.8" cy="187.8" r="24.2" fill="url(#sg)"/>
<circle cx="420.0" cy="197.7" r="24.2" fill="url(#sg)"/>
<circle cx="394.5" cy="105.3" r="24.2" fill="url(#sg)"/>
<circle cx="402.6" cy="115.3" r="24.2" fill="url(#sg)"/>
<circle cx="410.7" cy="125.2" r="24.2" fill="url(#sg)"/>
<circle cx="418.8" cy="135.2" r="24.2" fill="url(#sg)"/>
<circle cx="426.9" cy="145.1" r="24.2" fill="url(#sg)"/>
<circle cx="435.1" cy="155.1" r="24.2" fill="url(#sg)"/>
<circle cx="443.2" cy="165.0" r="24.2" fill="url(#sg)"/>
<circle cx="451.3" cy="174.9" r="24.2" fill="url(#sg)"/>
<circle cx="459.4" cy="184.9" r="24.2" fill="url(#sg)"/>
<circle cx="467.5" cy="194.8" r="24.2" fill="url(#sg)"/>
<circle cx="443.0" cy="102.0" r="24.2" fill="url(#sg)"/>
<circle cx="451.0" cy="112.0" r="24.2" fill="url(#sg)"/>
<circle cx="459.0" cy="122.0" r="24.2" fill="url(#sg)"/>
<circle cx="467.0" cy="132.0" r="24.2" fill="url(#sg)"/>
<circle cx="475.0" cy="142.0" r="24.2" fill="url(#sg)"/>
<circle cx="483.0" cy="152.0" r="24.2" fill="url(#sg)"/>
<circle cx="491.0" cy="162.0" r="24.2" fill="url(#sg)"/>
<circle cx="499.0" cy="172.0" r="24.2" fill="url(#sg)"/>
<circle cx="507.0" cy="182.0" r="24.2" fill="url(#sg)"/>
<circle cx="515.0" cy="192.0" r="24.2" fill="url(#sg)"/>
</g>
</svg>
</body></html>
